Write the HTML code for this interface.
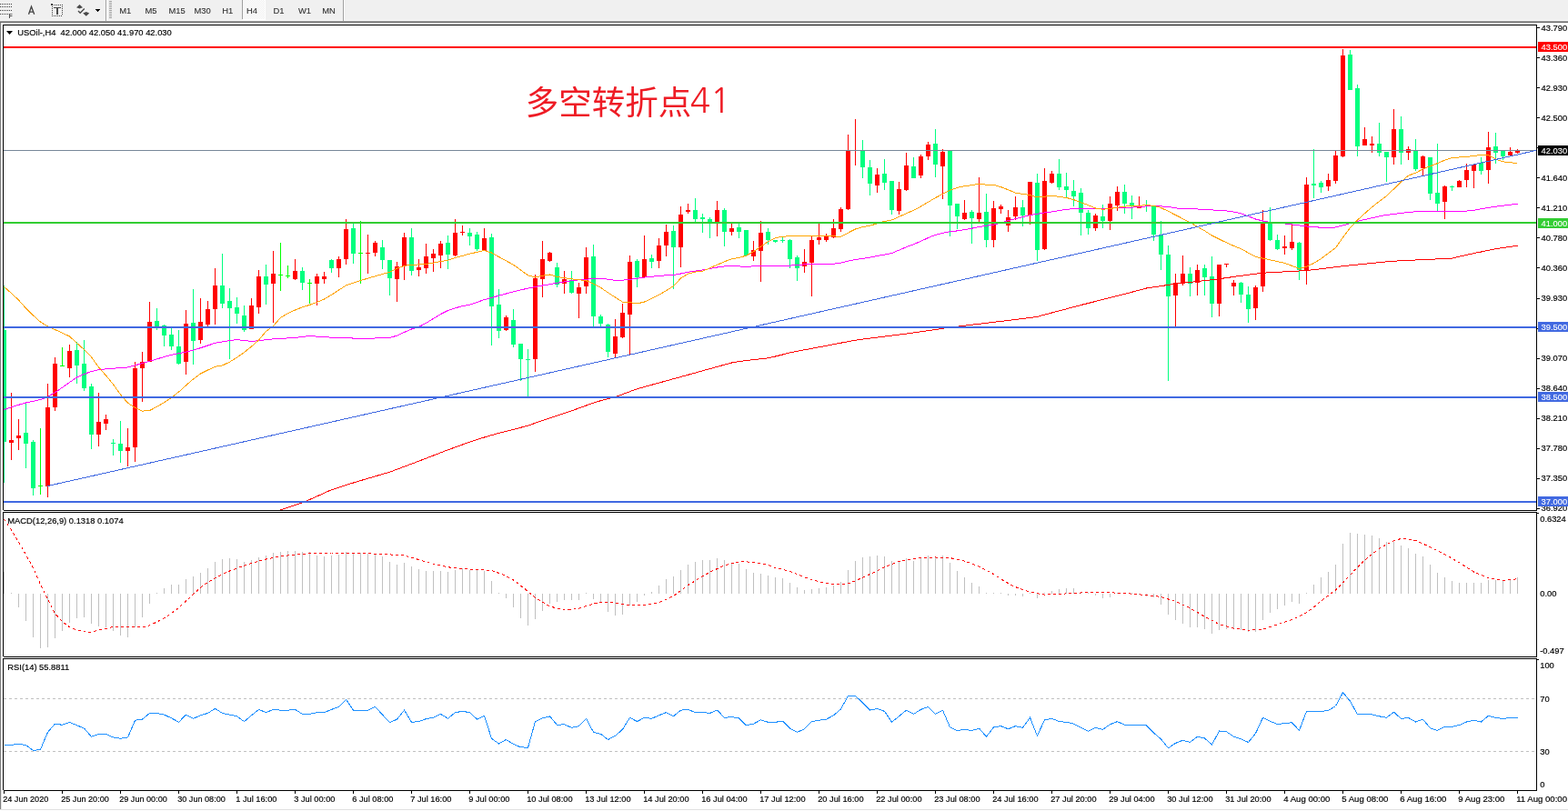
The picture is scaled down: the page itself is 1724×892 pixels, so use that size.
<!DOCTYPE html>
<html><head><meta charset="utf-8"><title>USOil H4</title>
<style>html,body{margin:0;padding:0;background:#fff;}body{width:1724px;height:892px;overflow:hidden;}</style>
</head><body>
<svg xmlns="http://www.w3.org/2000/svg" width="1724" height="892" viewBox="0 0 1724 892" style="display:block"><defs><clipPath id="cm"><rect x="4" y="28" width="1685" height="533"/></clipPath><clipPath id="cmacd"><rect x="4" y="564" width="1685" height="158"/></clipPath><clipPath id="crsi"><rect x="4" y="725" width="1685" height="144"/></clipPath></defs><rect x="0" y="0" width="1724" height="892" fill="#ffffff"/><g id="toolbar" shape-rendering="crispEdges"><rect x="0" y="0" width="1724" height="23" fill="#f0f0f0"/><rect x="0" y="22" width="1724" height="1" fill="#f7f7f7"/><rect x="0" y="23" width="1724" height="1" fill="#a0a0a0"/><rect x="0" y="24" width="1724" height="1" fill="#696969"/></g><g id="icons" shape-rendering="crispEdges"><rect x="0" y="4" width="1" height="1" fill="#404040"/><rect x="2" y="4" width="1" height="1" fill="#404040"/><rect x="4" y="4" width="1" height="1" fill="#404040"/><rect x="6" y="4" width="1" height="1" fill="#404040"/><rect x="8" y="4" width="1" height="1" fill="#404040"/><rect x="10" y="4" width="1" height="1" fill="#404040"/><rect x="12" y="4" width="1" height="1" fill="#404040"/><rect x="0" y="7" width="1" height="1" fill="#404040"/><rect x="2" y="7" width="1" height="1" fill="#404040"/><rect x="4" y="7" width="1" height="1" fill="#404040"/><rect x="6" y="7" width="1" height="1" fill="#404040"/><rect x="8" y="7" width="1" height="1" fill="#404040"/><rect x="10" y="7" width="1" height="1" fill="#404040"/><rect x="12" y="7" width="1" height="1" fill="#404040"/><rect x="0" y="11" width="1" height="1" fill="#404040"/><rect x="2" y="11" width="1" height="1" fill="#404040"/><rect x="4" y="11" width="1" height="1" fill="#404040"/><rect x="6" y="11" width="1" height="1" fill="#404040"/><rect x="8" y="11" width="1" height="1" fill="#404040"/><rect x="10" y="11" width="1" height="1" fill="#404040"/><rect x="12" y="11" width="1" height="1" fill="#404040"/><rect x="0" y="15" width="1" height="1" fill="#404040"/><rect x="2" y="15" width="1" height="1" fill="#404040"/><rect x="4" y="15" width="1" height="1" fill="#404040"/><rect x="6" y="15" width="1" height="1" fill="#404040"/><rect x="8" y="15" width="1" height="1" fill="#404040"/><text x="9.5" y="20" font-family="'Liberation Sans', Arial, sans-serif" font-size="7" font-weight="bold" fill="#505050">F</text><path d="M31.5,15.8 L34.5,7.2 L37.7,15.8 M32.6,13.1 H36.5" fill="none" stroke="#444" stroke-width="1.35" shape-rendering="auto"/><rect x="60" y="5" width="1" height="1" fill="#404040"/><rect x="62" y="5" width="1" height="1" fill="#404040"/><rect x="64" y="5" width="1" height="1" fill="#404040"/><rect x="66" y="5" width="1" height="1" fill="#404040"/><rect x="68" y="5" width="1" height="1" fill="#404040"/><rect x="57" y="7" width="1" height="1" fill="#404040"/><rect x="57" y="9" width="1" height="1" fill="#404040"/><rect x="57" y="11" width="1" height="1" fill="#404040"/><rect x="57" y="13" width="1" height="1" fill="#404040"/><rect x="57" y="15" width="1" height="1" fill="#404040"/><rect x="57" y="17" width="1" height="1" fill="#404040"/><rect x="68" y="7" width="1" height="1" fill="#404040"/><rect x="68" y="9" width="1" height="1" fill="#404040"/><rect x="68" y="11" width="1" height="1" fill="#404040"/><rect x="68" y="13" width="1" height="1" fill="#404040"/><rect x="68" y="15" width="1" height="1" fill="#404040"/><rect x="59" y="17" width="1" height="1" fill="#404040"/><rect x="61" y="17" width="1" height="1" fill="#404040"/><rect x="63" y="17" width="1" height="1" fill="#404040"/><rect x="65" y="17" width="1" height="1" fill="#404040"/><rect x="67" y="17" width="1" height="1" fill="#404040"/><rect x="56" y="4" width="2" height="2" fill="#404040"/><rect x="58" y="5" width="1" height="1" fill="#808080"/><rect x="59" y="8" width="8" height="1" fill="#4a4a4a"/><rect x="62" y="8" width="2" height="8" fill="#4a4a4a"/><path d="M84,8.2 L87.5,5 L91,8.2 L87.5,9.6 Z" fill="#4a4a4a" shape-rendering="auto"/><path d="M86,12 L88.2,14.3 L92.8,9.6" fill="none" stroke="#4a4a4a" stroke-width="1.4" shape-rendering="auto"/><path d="M91.2,14.6 L94.8,13 L98.2,14.6 L94.8,17.8 Z" fill="#4a4a4a" shape-rendering="auto"/><path d="M104.5,10 L110.5,10 L107.5,13 Z" fill="#000"/><rect x="116" y="0" width="1" height="23" fill="#a0a0a0"/><rect x="117" y="0" width="1" height="23" fill="#ffffff"/><rect x="120" y="1" width="3" height="1" fill="#a0a0a0"/><rect x="120" y="3" width="3" height="1" fill="#a0a0a0"/><rect x="120" y="5" width="3" height="1" fill="#a0a0a0"/><rect x="120" y="7" width="3" height="1" fill="#a0a0a0"/><rect x="120" y="9" width="3" height="1" fill="#a0a0a0"/><rect x="120" y="11" width="3" height="1" fill="#a0a0a0"/><rect x="120" y="13" width="3" height="1" fill="#a0a0a0"/><rect x="120" y="15" width="3" height="1" fill="#a0a0a0"/><rect x="120" y="17" width="3" height="1" fill="#a0a0a0"/><rect x="120" y="19" width="3" height="1" fill="#a0a0a0"/></g><pattern id="chk" x="0" y="0" width="2" height="2" patternUnits="userSpaceOnUse"><rect width="2" height="2" fill="#f0f0f0"/><rect width="1" height="1" fill="#ffffff"/><rect x="1" y="1" width="1" height="1" fill="#ffffff"/></pattern><rect x="267" y="0" width="24" height="21" fill="url(#chk)" shape-rendering="crispEdges"/><rect x="291" y="0" width="1" height="22" fill="#ffffff" shape-rendering="crispEdges"/><rect x="267" y="21" width="25" height="1" fill="#ffffff" shape-rendering="crispEdges"/><rect x="266" y="0" width="1" height="21" fill="#a0a0a0" shape-rendering="crispEdges"/><rect x="377" y="0" width="1" height="23" fill="#a0a0a0" shape-rendering="crispEdges"/><rect x="378" y="0" width="1" height="22" fill="#ffffff" shape-rendering="crispEdges"/><text x="131.2" y="14.9" font-family="'Liberation Sans', Arial, sans-serif" font-size="9.4" fill="#303030" stroke="#303030" stroke-width="0.1" textLength="13.06" lengthAdjust="spacingAndGlyphs" xml:space="preserve" >M1</text><text x="159.39999999999998" y="14.9" font-family="'Liberation Sans', Arial, sans-serif" font-size="9.4" fill="#303030" stroke="#303030" stroke-width="0.1" textLength="13.06" lengthAdjust="spacingAndGlyphs" xml:space="preserve" >M5</text><text x="185.39999999999998" y="14.9" font-family="'Liberation Sans', Arial, sans-serif" font-size="9.4" fill="#303030" stroke="#303030" stroke-width="0.1" textLength="18.28" lengthAdjust="spacingAndGlyphs" xml:space="preserve" >M15</text><text x="213.39999999999998" y="14.9" font-family="'Liberation Sans', Arial, sans-serif" font-size="9.4" fill="#303030" stroke="#303030" stroke-width="0.1" textLength="18.28" lengthAdjust="spacingAndGlyphs" xml:space="preserve" >M30</text><text x="244.2" y="14.9" font-family="'Liberation Sans', Arial, sans-serif" font-size="9.4" fill="#303030" stroke="#303030" stroke-width="0.1" textLength="12.02" lengthAdjust="spacingAndGlyphs" xml:space="preserve" >H1</text><text x="271.0" y="14.9" font-family="'Liberation Sans', Arial, sans-serif" font-size="9.4" fill="#303030" stroke="#303030" stroke-width="0.1" textLength="12.02" lengthAdjust="spacingAndGlyphs" xml:space="preserve" >H4</text><text x="300.4" y="14.9" font-family="'Liberation Sans', Arial, sans-serif" font-size="9.4" fill="#303030" stroke="#303030" stroke-width="0.1" textLength="12.02" lengthAdjust="spacingAndGlyphs" xml:space="preserve" >D1</text><text x="327.9" y="14.9" font-family="'Liberation Sans', Arial, sans-serif" font-size="9.4" fill="#303030" stroke="#303030" stroke-width="0.1" textLength="14.10" lengthAdjust="spacingAndGlyphs" xml:space="preserve" >W1</text><text x="354.3" y="14.9" font-family="'Liberation Sans', Arial, sans-serif" font-size="9.4" fill="#303030" stroke="#303030" stroke-width="0.1" textLength="14.62" lengthAdjust="spacingAndGlyphs" xml:space="preserve" >MN</text><rect x="0" y="25" width="1" height="865" fill="#808080" shape-rendering="crispEdges"/><rect x="1" y="25" width="1" height="865" fill="#e6e6e6" shape-rendering="crispEdges"/><rect x="0" y="890" width="1724" height="1" fill="#e0e0e0" shape-rendering="crispEdges"/><g fill="none" stroke="#000" stroke-width="1" shape-rendering="crispEdges"><path d="M3.5,561 V27.5 H1689.5 V561.5 H3.5"/><path d="M3.5,722 V563.5 H1689.5 V722.5 H3.5"/><path d="M3.5,869 V724.5 H1689.5 V869.5 H3.5"/></g><g clip-path="url(#cm)" shape-rendering="crispEdges"><rect x="4" y="314" width="1" height="217" fill="#00ff7f"/><rect x="2" y="363" width="5" height="123" fill="#00ff7f"/><rect x="12" y="432" width="1" height="74" fill="#ff0000"/><rect x="10" y="484" width="5" height="3" fill="#ff0000"/><rect x="20" y="461" width="1" height="34" fill="#ff0000"/><rect x="18" y="479" width="5" height="3" fill="#ff0000"/><rect x="28" y="444" width="1" height="71" fill="#00ff7f"/><rect x="26" y="476" width="5" height="12" fill="#00ff7f"/><rect x="36" y="484" width="1" height="61" fill="#00ff7f"/><rect x="34" y="486" width="5" height="51" fill="#00ff7f"/><rect x="44" y="471" width="1" height="73" fill="#00ff00"/><rect x="42" y="534" width="5" height="1" fill="#00ff00"/><rect x="52" y="422" width="1" height="125" fill="#ff0000"/><rect x="50" y="448" width="5" height="87" fill="#ff0000"/><rect x="60" y="393" width="1" height="59" fill="#ff0000"/><rect x="58" y="400" width="5" height="48" fill="#ff0000"/><rect x="68" y="382" width="1" height="20" fill="#00ff00"/><rect x="66" y="402" width="5" height="1" fill="#00ff00"/><rect x="76" y="379" width="1" height="36" fill="#ff0000"/><rect x="74" y="386" width="5" height="19" fill="#ff0000"/><rect x="84" y="376" width="1" height="46" fill="#00ff7f"/><rect x="82" y="385" width="5" height="17" fill="#00ff7f"/><rect x="92" y="374" width="1" height="56" fill="#00ff7f"/><rect x="90" y="400" width="5" height="27" fill="#00ff7f"/><rect x="100" y="422" width="1" height="72" fill="#00ff7f"/><rect x="98" y="425" width="5" height="53" fill="#00ff7f"/><rect x="108" y="432" width="1" height="59" fill="#ff0000"/><rect x="106" y="464" width="5" height="14" fill="#ff0000"/><rect x="116" y="456" width="1" height="17" fill="#ff0000"/><rect x="114" y="461" width="5" height="5" fill="#ff0000"/><rect x="124" y="483" width="1" height="18" fill="#00ff7f"/><rect x="122" y="487" width="5" height="1" fill="#00ff7f"/><rect x="132" y="463" width="1" height="46" fill="#00ff7f"/><rect x="130" y="488" width="5" height="8" fill="#00ff7f"/><rect x="140" y="471" width="1" height="42" fill="#ff0000"/><rect x="138" y="492" width="5" height="4" fill="#ff0000"/><rect x="148" y="398" width="1" height="110" fill="#ff0000"/><rect x="146" y="405" width="5" height="87" fill="#ff0000"/><rect x="156" y="387" width="1" height="55" fill="#ff0000"/><rect x="154" y="398" width="5" height="7" fill="#ff0000"/><rect x="164" y="332" width="1" height="66" fill="#ff0000"/><rect x="162" y="354" width="5" height="44" fill="#ff0000"/><rect x="172" y="339" width="1" height="24" fill="#00ff7f"/><rect x="170" y="353" width="5" height="6" fill="#00ff7f"/><rect x="180" y="357" width="1" height="24" fill="#00ff7f"/><rect x="178" y="358" width="5" height="11" fill="#00ff7f"/><rect x="188" y="361" width="1" height="24" fill="#00ff7f"/><rect x="186" y="368" width="5" height="13" fill="#00ff7f"/><rect x="196" y="363" width="1" height="38" fill="#00ff7f"/><rect x="194" y="381" width="5" height="19" fill="#00ff7f"/><rect x="204" y="341" width="1" height="71" fill="#ff0000"/><rect x="202" y="356" width="5" height="42" fill="#ff0000"/><rect x="212" y="318" width="1" height="83" fill="#00ff7f"/><rect x="210" y="355" width="5" height="20" fill="#00ff7f"/><rect x="220" y="328" width="1" height="50" fill="#ff0000"/><rect x="218" y="354" width="5" height="20" fill="#ff0000"/><rect x="228" y="331" width="1" height="28" fill="#ff0000"/><rect x="226" y="340" width="5" height="17" fill="#ff0000"/><rect x="236" y="295" width="1" height="62" fill="#ff0000"/><rect x="234" y="314" width="5" height="26" fill="#ff0000"/><rect x="244" y="279" width="1" height="60" fill="#00ff7f"/><rect x="242" y="314" width="5" height="20" fill="#00ff7f"/><rect x="252" y="317" width="1" height="78" fill="#00ff7f"/><rect x="250" y="331" width="5" height="8" fill="#00ff7f"/><rect x="260" y="327" width="1" height="29" fill="#00ff7f"/><rect x="258" y="338" width="5" height="7" fill="#00ff7f"/><rect x="268" y="336" width="1" height="29" fill="#00ff7f"/><rect x="266" y="347" width="5" height="16" fill="#00ff7f"/><rect x="276" y="328" width="1" height="34" fill="#ff0000"/><rect x="274" y="336" width="5" height="26" fill="#ff0000"/><rect x="284" y="297" width="1" height="48" fill="#ff0000"/><rect x="282" y="304" width="5" height="34" fill="#ff0000"/><rect x="292" y="291" width="1" height="44" fill="#00ff7f"/><rect x="290" y="304" width="5" height="9" fill="#00ff7f"/><rect x="300" y="276" width="1" height="79" fill="#ff0000"/><rect x="298" y="301" width="5" height="11" fill="#ff0000"/><rect x="308" y="267" width="1" height="53" fill="#00ff00"/><rect x="306" y="302" width="5" height="1" fill="#00ff00"/><rect x="316" y="292" width="1" height="14" fill="#00ff00"/><rect x="314" y="303" width="5" height="1" fill="#00ff00"/><rect x="324" y="285" width="1" height="23" fill="#ff0000"/><rect x="322" y="298" width="5" height="9" fill="#ff0000"/><rect x="332" y="294" width="1" height="25" fill="#00ff7f"/><rect x="330" y="298" width="5" height="13" fill="#00ff7f"/><rect x="340" y="307" width="1" height="27" fill="#00ff00"/><rect x="338" y="311" width="5" height="1" fill="#00ff00"/><rect x="348" y="301" width="1" height="35" fill="#ff0000"/><rect x="346" y="304" width="5" height="8" fill="#ff0000"/><rect x="356" y="299" width="1" height="13" fill="#ff0000"/><rect x="354" y="304" width="5" height="3" fill="#ff0000"/><rect x="364" y="285" width="1" height="15" fill="#00ff7f"/><rect x="362" y="286" width="5" height="9" fill="#00ff7f"/><rect x="372" y="282" width="1" height="23" fill="#ff0000"/><rect x="370" y="285" width="5" height="10" fill="#ff0000"/><rect x="380" y="241" width="1" height="50" fill="#ff0000"/><rect x="378" y="252" width="5" height="33" fill="#ff0000"/><rect x="388" y="245" width="1" height="45" fill="#00ff7f"/><rect x="386" y="251" width="5" height="28" fill="#00ff7f"/><rect x="396" y="243" width="1" height="69" fill="#00ff00"/><rect x="394" y="278" width="5" height="1" fill="#00ff00"/><rect x="404" y="258" width="1" height="43" fill="#ff0000"/><rect x="402" y="278" width="5" height="1" fill="#ff0000"/><rect x="412" y="265" width="1" height="17" fill="#ff0000"/><rect x="410" y="267" width="5" height="11" fill="#ff0000"/><rect x="420" y="264" width="1" height="32" fill="#00ff7f"/><rect x="418" y="272" width="5" height="14" fill="#00ff7f"/><rect x="428" y="286" width="1" height="39" fill="#00ff7f"/><rect x="426" y="286" width="5" height="20" fill="#00ff7f"/><rect x="436" y="288" width="1" height="44" fill="#ff0000"/><rect x="434" y="293" width="5" height="14" fill="#ff0000"/><rect x="444" y="256" width="1" height="52" fill="#ff0000"/><rect x="442" y="261" width="5" height="32" fill="#ff0000"/><rect x="452" y="251" width="1" height="52" fill="#00ff7f"/><rect x="450" y="261" width="5" height="37" fill="#00ff7f"/><rect x="460" y="285" width="1" height="19" fill="#ff0000"/><rect x="458" y="294" width="5" height="3" fill="#ff0000"/><rect x="468" y="268" width="1" height="33" fill="#ff0000"/><rect x="466" y="282" width="5" height="13" fill="#ff0000"/><rect x="476" y="274" width="1" height="25" fill="#ff0000"/><rect x="474" y="279" width="5" height="5" fill="#ff0000"/><rect x="484" y="265" width="1" height="30" fill="#ff0000"/><rect x="482" y="268" width="5" height="13" fill="#ff0000"/><rect x="492" y="259" width="1" height="37" fill="#00ff7f"/><rect x="490" y="267" width="5" height="13" fill="#00ff7f"/><rect x="500" y="241" width="1" height="41" fill="#ff0000"/><rect x="498" y="256" width="5" height="25" fill="#ff0000"/><rect x="508" y="248" width="1" height="11" fill="#ff0000"/><rect x="506" y="255" width="5" height="1" fill="#ff0000"/><rect x="516" y="251" width="1" height="19" fill="#00ff7f"/><rect x="514" y="256" width="5" height="4" fill="#00ff7f"/><rect x="524" y="255" width="1" height="21" fill="#00ff7f"/><rect x="522" y="258" width="5" height="16" fill="#00ff7f"/><rect x="532" y="251" width="1" height="25" fill="#ff0000"/><rect x="530" y="262" width="5" height="14" fill="#ff0000"/><rect x="540" y="257" width="1" height="123" fill="#00ff7f"/><rect x="538" y="261" width="5" height="76" fill="#00ff7f"/><rect x="548" y="318" width="1" height="54" fill="#00ff7f"/><rect x="546" y="335" width="5" height="29" fill="#00ff7f"/><rect x="556" y="347" width="1" height="17" fill="#ff0000"/><rect x="554" y="349" width="5" height="14" fill="#ff0000"/><rect x="564" y="340" width="1" height="42" fill="#00ff7f"/><rect x="562" y="352" width="5" height="27" fill="#00ff7f"/><rect x="572" y="378" width="1" height="41" fill="#00ff7f"/><rect x="570" y="378" width="5" height="17" fill="#00ff7f"/><rect x="580" y="384" width="1" height="52" fill="#00ff7f"/><rect x="578" y="395" width="5" height="1" fill="#00ff7f"/><rect x="588" y="302" width="1" height="107" fill="#ff0000"/><rect x="586" y="306" width="5" height="89" fill="#ff0000"/><rect x="596" y="265" width="1" height="62" fill="#ff0000"/><rect x="594" y="285" width="5" height="22" fill="#ff0000"/><rect x="604" y="277" width="1" height="11" fill="#ff0000"/><rect x="602" y="278" width="5" height="9" fill="#ff0000"/><rect x="612" y="289" width="1" height="27" fill="#00ff7f"/><rect x="610" y="294" width="5" height="19" fill="#00ff7f"/><rect x="620" y="298" width="1" height="25" fill="#ff0000"/><rect x="618" y="307" width="5" height="5" fill="#ff0000"/><rect x="628" y="298" width="1" height="25" fill="#00ff7f"/><rect x="626" y="308" width="5" height="14" fill="#00ff7f"/><rect x="636" y="311" width="1" height="39" fill="#ff0000"/><rect x="634" y="316" width="5" height="7" fill="#ff0000"/><rect x="644" y="272" width="1" height="51" fill="#ff0000"/><rect x="642" y="283" width="5" height="32" fill="#ff0000"/><rect x="652" y="269" width="1" height="90" fill="#00ff7f"/><rect x="650" y="282" width="5" height="66" fill="#00ff7f"/><rect x="660" y="346" width="1" height="13" fill="#00ff7f"/><rect x="658" y="348" width="5" height="8" fill="#00ff7f"/><rect x="668" y="356" width="1" height="37" fill="#00ff7f"/><rect x="666" y="357" width="5" height="30" fill="#00ff7f"/><rect x="676" y="351" width="1" height="43" fill="#ff0000"/><rect x="674" y="370" width="5" height="19" fill="#ff0000"/><rect x="684" y="334" width="1" height="38" fill="#ff0000"/><rect x="682" y="344" width="5" height="27" fill="#ff0000"/><rect x="692" y="281" width="1" height="109" fill="#ff0000"/><rect x="690" y="288" width="5" height="58" fill="#ff0000"/><rect x="700" y="285" width="1" height="31" fill="#00ff7f"/><rect x="698" y="287" width="5" height="18" fill="#00ff7f"/><rect x="708" y="259" width="1" height="46" fill="#ff0000"/><rect x="706" y="285" width="5" height="20" fill="#ff0000"/><rect x="716" y="280" width="1" height="15" fill="#00ff7f"/><rect x="714" y="284" width="5" height="4" fill="#00ff7f"/><rect x="724" y="262" width="1" height="33" fill="#ff0000"/><rect x="722" y="270" width="5" height="17" fill="#ff0000"/><rect x="732" y="247" width="1" height="35" fill="#ff0000"/><rect x="730" y="255" width="5" height="15" fill="#ff0000"/><rect x="740" y="248" width="1" height="70" fill="#00ff7f"/><rect x="738" y="254" width="5" height="18" fill="#00ff7f"/><rect x="748" y="227" width="1" height="67" fill="#ff0000"/><rect x="746" y="236" width="5" height="36" fill="#ff0000"/><rect x="756" y="224" width="1" height="11" fill="#ff0000"/><rect x="754" y="231" width="5" height="2" fill="#ff0000"/><rect x="764" y="218" width="1" height="26" fill="#00ff7f"/><rect x="762" y="231" width="5" height="10" fill="#00ff7f"/><rect x="772" y="235" width="1" height="21" fill="#00ff7f"/><rect x="770" y="239" width="5" height="2" fill="#00ff7f"/><rect x="780" y="239" width="1" height="23" fill="#00ff7f"/><rect x="778" y="241" width="5" height="3" fill="#00ff7f"/><rect x="788" y="221" width="1" height="39" fill="#ff0000"/><rect x="786" y="231" width="5" height="13" fill="#ff0000"/><rect x="796" y="229" width="1" height="42" fill="#00ff7f"/><rect x="794" y="231" width="5" height="24" fill="#00ff7f"/><rect x="804" y="246" width="1" height="13" fill="#ff0000"/><rect x="802" y="251" width="5" height="4" fill="#ff0000"/><rect x="812" y="246" width="1" height="16" fill="#00ff7f"/><rect x="810" y="250" width="5" height="5" fill="#00ff7f"/><rect x="820" y="253" width="1" height="28" fill="#00ff7f"/><rect x="818" y="253" width="5" height="28" fill="#00ff7f"/><rect x="828" y="265" width="1" height="22" fill="#ff0000"/><rect x="826" y="275" width="5" height="7" fill="#ff0000"/><rect x="836" y="243" width="1" height="67" fill="#ff0000"/><rect x="834" y="256" width="5" height="20" fill="#ff0000"/><rect x="844" y="251" width="1" height="18" fill="#00ff7f"/><rect x="842" y="255" width="5" height="9" fill="#00ff7f"/><rect x="852" y="264" width="1" height="3" fill="#00ff7f"/><rect x="850" y="264" width="5" height="2" fill="#00ff7f"/><rect x="860" y="261" width="1" height="6" fill="#00ff7f"/><rect x="858" y="264" width="5" height="1" fill="#00ff7f"/><rect x="868" y="263" width="1" height="32" fill="#00ff7f"/><rect x="866" y="264" width="5" height="21" fill="#00ff7f"/><rect x="876" y="281" width="1" height="28" fill="#00ff7f"/><rect x="874" y="283" width="5" height="12" fill="#00ff7f"/><rect x="884" y="274" width="1" height="26" fill="#ff0000"/><rect x="882" y="288" width="5" height="5" fill="#ff0000"/><rect x="892" y="260" width="1" height="66" fill="#ff0000"/><rect x="890" y="264" width="5" height="25" fill="#ff0000"/><rect x="900" y="245" width="1" height="24" fill="#ff0000"/><rect x="898" y="261" width="5" height="3" fill="#ff0000"/><rect x="908" y="257" width="1" height="9" fill="#ff0000"/><rect x="906" y="260" width="5" height="4" fill="#ff0000"/><rect x="916" y="241" width="1" height="21" fill="#ff0000"/><rect x="914" y="251" width="5" height="10" fill="#ff0000"/><rect x="924" y="228" width="1" height="27" fill="#ff0000"/><rect x="922" y="230" width="5" height="22" fill="#ff0000"/><rect x="932" y="148" width="1" height="83" fill="#ff0000"/><rect x="930" y="165" width="5" height="65" fill="#ff0000"/><rect x="940" y="131" width="1" height="51" fill="#ff0000"/><rect x="938" y="165" width="5" height="1" fill="#ff0000"/><rect x="948" y="154" width="1" height="42" fill="#00ff7f"/><rect x="946" y="166" width="5" height="18" fill="#00ff7f"/><rect x="956" y="176" width="1" height="39" fill="#00ff7f"/><rect x="954" y="184" width="5" height="18" fill="#00ff7f"/><rect x="964" y="185" width="1" height="27" fill="#ff0000"/><rect x="962" y="192" width="5" height="12" fill="#ff0000"/><rect x="972" y="175" width="1" height="34" fill="#00ff7f"/><rect x="970" y="191" width="5" height="10" fill="#00ff7f"/><rect x="980" y="199" width="1" height="37" fill="#00ff7f"/><rect x="978" y="199" width="5" height="32" fill="#00ff7f"/><rect x="988" y="200" width="1" height="36" fill="#ff0000"/><rect x="986" y="208" width="5" height="24" fill="#ff0000"/><rect x="996" y="168" width="1" height="42" fill="#ff0000"/><rect x="994" y="182" width="5" height="27" fill="#ff0000"/><rect x="1004" y="173" width="1" height="23" fill="#00ff7f"/><rect x="1002" y="183" width="5" height="13" fill="#00ff7f"/><rect x="1012" y="170" width="1" height="26" fill="#ff0000"/><rect x="1010" y="172" width="5" height="21" fill="#ff0000"/><rect x="1020" y="156" width="1" height="20" fill="#ff0000"/><rect x="1018" y="159" width="5" height="13" fill="#ff0000"/><rect x="1028" y="142" width="1" height="53" fill="#00ff7f"/><rect x="1026" y="158" width="5" height="23" fill="#00ff7f"/><rect x="1036" y="164" width="1" height="55" fill="#ff0000"/><rect x="1034" y="167" width="5" height="16" fill="#ff0000"/><rect x="1044" y="165" width="1" height="95" fill="#00ff7f"/><rect x="1042" y="165" width="5" height="61" fill="#00ff7f"/><rect x="1052" y="224" width="1" height="28" fill="#00ff7f"/><rect x="1050" y="224" width="5" height="14" fill="#00ff7f"/><rect x="1060" y="220" width="1" height="22" fill="#ff0000"/><rect x="1058" y="234" width="5" height="7" fill="#ff0000"/><rect x="1068" y="231" width="1" height="37" fill="#00ff7f"/><rect x="1066" y="233" width="5" height="7" fill="#00ff7f"/><rect x="1076" y="195" width="1" height="49" fill="#ff0000"/><rect x="1074" y="234" width="5" height="7" fill="#ff0000"/><rect x="1084" y="213" width="1" height="59" fill="#00ff7f"/><rect x="1082" y="233" width="5" height="31" fill="#00ff7f"/><rect x="1092" y="221" width="1" height="51" fill="#ff0000"/><rect x="1090" y="229" width="5" height="35" fill="#ff0000"/><rect x="1100" y="225" width="1" height="10" fill="#ff0000"/><rect x="1098" y="227" width="5" height="3" fill="#ff0000"/><rect x="1108" y="231" width="1" height="24" fill="#ff0000"/><rect x="1106" y="239" width="5" height="9" fill="#ff0000"/><rect x="1116" y="216" width="1" height="26" fill="#ff0000"/><rect x="1114" y="228" width="5" height="10" fill="#ff0000"/><rect x="1124" y="220" width="1" height="29" fill="#00ff7f"/><rect x="1122" y="228" width="5" height="9" fill="#00ff7f"/><rect x="1132" y="200" width="1" height="47" fill="#ff0000"/><rect x="1130" y="200" width="5" height="37" fill="#ff0000"/><rect x="1140" y="191" width="1" height="96" fill="#00ff7f"/><rect x="1138" y="201" width="5" height="74" fill="#00ff7f"/><rect x="1148" y="185" width="1" height="90" fill="#ff0000"/><rect x="1146" y="199" width="5" height="75" fill="#ff0000"/><rect x="1156" y="188" width="1" height="14" fill="#ff0000"/><rect x="1154" y="191" width="5" height="10" fill="#ff0000"/><rect x="1164" y="175" width="1" height="34" fill="#00ff7f"/><rect x="1162" y="191" width="5" height="15" fill="#00ff7f"/><rect x="1172" y="190" width="1" height="27" fill="#00ff7f"/><rect x="1170" y="205" width="5" height="4" fill="#00ff7f"/><rect x="1180" y="198" width="1" height="29" fill="#00ff7f"/><rect x="1178" y="210" width="5" height="6" fill="#00ff7f"/><rect x="1188" y="207" width="1" height="52" fill="#00ff7f"/><rect x="1186" y="212" width="5" height="22" fill="#00ff7f"/><rect x="1196" y="231" width="1" height="27" fill="#00ff7f"/><rect x="1194" y="234" width="5" height="17" fill="#00ff7f"/><rect x="1204" y="235" width="1" height="19" fill="#ff0000"/><rect x="1202" y="237" width="5" height="14" fill="#ff0000"/><rect x="1212" y="225" width="1" height="26" fill="#00ff7f"/><rect x="1210" y="238" width="5" height="5" fill="#00ff7f"/><rect x="1220" y="216" width="1" height="37" fill="#ff0000"/><rect x="1218" y="224" width="5" height="19" fill="#ff0000"/><rect x="1228" y="205" width="1" height="27" fill="#ff0000"/><rect x="1226" y="211" width="5" height="15" fill="#ff0000"/><rect x="1236" y="203" width="1" height="32" fill="#00ff7f"/><rect x="1234" y="211" width="5" height="13" fill="#00ff7f"/><rect x="1244" y="215" width="1" height="26" fill="#00ff7f"/><rect x="1242" y="223" width="5" height="4" fill="#00ff7f"/><rect x="1252" y="216" width="1" height="13" fill="#ff0000"/><rect x="1250" y="226" width="5" height="3" fill="#ff0000"/><rect x="1260" y="220" width="1" height="13" fill="#00ff7f"/><rect x="1258" y="225" width="5" height="1" fill="#00ff7f"/><rect x="1268" y="227" width="1" height="38" fill="#00ff7f"/><rect x="1266" y="227" width="5" height="31" fill="#00ff7f"/><rect x="1276" y="243" width="1" height="54" fill="#00ff7f"/><rect x="1274" y="258" width="5" height="22" fill="#00ff7f"/><rect x="1284" y="270" width="1" height="149" fill="#00ff7f"/><rect x="1282" y="280" width="5" height="46" fill="#00ff7f"/><rect x="1292" y="301" width="1" height="58" fill="#ff0000"/><rect x="1290" y="311" width="5" height="14" fill="#ff0000"/><rect x="1300" y="281" width="1" height="33" fill="#ff0000"/><rect x="1298" y="301" width="5" height="11" fill="#ff0000"/><rect x="1308" y="294" width="1" height="32" fill="#00ff7f"/><rect x="1306" y="301" width="5" height="11" fill="#00ff7f"/><rect x="1316" y="291" width="1" height="34" fill="#ff0000"/><rect x="1314" y="297" width="5" height="14" fill="#ff0000"/><rect x="1324" y="291" width="1" height="34" fill="#00ff7f"/><rect x="1322" y="295" width="5" height="10" fill="#00ff7f"/><rect x="1332" y="282" width="1" height="67" fill="#00ff7f"/><rect x="1330" y="304" width="5" height="30" fill="#00ff7f"/><rect x="1340" y="291" width="1" height="57" fill="#ff0000"/><rect x="1338" y="291" width="5" height="43" fill="#ff0000"/><rect x="1348" y="290" width="1" height="4" fill="#ff0000"/><rect x="1346" y="290" width="5" height="1" fill="#ff0000"/><rect x="1356" y="308" width="1" height="17" fill="#ff0000"/><rect x="1354" y="311" width="5" height="4" fill="#ff0000"/><rect x="1364" y="310" width="1" height="23" fill="#00ff7f"/><rect x="1362" y="311" width="5" height="13" fill="#00ff7f"/><rect x="1372" y="315" width="1" height="40" fill="#00ff7f"/><rect x="1370" y="324" width="5" height="16" fill="#00ff7f"/><rect x="1380" y="314" width="1" height="38" fill="#ff0000"/><rect x="1378" y="316" width="5" height="23" fill="#ff0000"/><rect x="1388" y="231" width="1" height="90" fill="#ff0000"/><rect x="1386" y="245" width="5" height="70" fill="#ff0000"/><rect x="1396" y="228" width="1" height="37" fill="#00ff7f"/><rect x="1394" y="245" width="5" height="19" fill="#00ff7f"/><rect x="1404" y="258" width="1" height="17" fill="#00ff7f"/><rect x="1402" y="264" width="5" height="10" fill="#00ff7f"/><rect x="1412" y="259" width="1" height="21" fill="#ff0000"/><rect x="1410" y="271" width="5" height="2" fill="#ff0000"/><rect x="1420" y="247" width="1" height="28" fill="#ff0000"/><rect x="1418" y="266" width="5" height="7" fill="#ff0000"/><rect x="1428" y="266" width="1" height="42" fill="#00ff7f"/><rect x="1426" y="267" width="5" height="30" fill="#00ff7f"/><rect x="1436" y="195" width="1" height="118" fill="#ff0000"/><rect x="1434" y="203" width="5" height="95" fill="#ff0000"/><rect x="1444" y="164" width="1" height="54" fill="#00ff7f"/><rect x="1442" y="202" width="5" height="2" fill="#00ff7f"/><rect x="1452" y="199" width="1" height="13" fill="#00ff7f"/><rect x="1450" y="201" width="5" height="5" fill="#00ff7f"/><rect x="1460" y="191" width="1" height="19" fill="#ff0000"/><rect x="1458" y="198" width="5" height="7" fill="#ff0000"/><rect x="1468" y="165" width="1" height="37" fill="#ff0000"/><rect x="1466" y="171" width="5" height="28" fill="#ff0000"/><rect x="1476" y="54" width="1" height="119" fill="#ff0000"/><rect x="1474" y="61" width="5" height="111" fill="#ff0000"/><rect x="1484" y="55" width="1" height="44" fill="#00ff7f"/><rect x="1482" y="60" width="5" height="39" fill="#00ff7f"/><rect x="1492" y="93" width="1" height="79" fill="#00ff7f"/><rect x="1490" y="97" width="5" height="64" fill="#00ff7f"/><rect x="1500" y="140" width="1" height="20" fill="#ff0000"/><rect x="1498" y="153" width="5" height="7" fill="#ff0000"/><rect x="1508" y="150" width="1" height="18" fill="#ff0000"/><rect x="1506" y="158" width="5" height="2" fill="#ff0000"/><rect x="1516" y="135" width="1" height="37" fill="#00ff7f"/><rect x="1514" y="158" width="5" height="10" fill="#00ff7f"/><rect x="1524" y="167" width="1" height="33" fill="#00ff7f"/><rect x="1522" y="167" width="5" height="6" fill="#00ff7f"/><rect x="1532" y="120" width="1" height="61" fill="#ff0000"/><rect x="1530" y="142" width="5" height="31" fill="#ff0000"/><rect x="1540" y="128" width="1" height="53" fill="#00ff7f"/><rect x="1538" y="142" width="5" height="26" fill="#00ff7f"/><rect x="1548" y="161" width="1" height="15" fill="#ff0000"/><rect x="1546" y="164" width="5" height="4" fill="#ff0000"/><rect x="1556" y="153" width="1" height="35" fill="#00ff7f"/><rect x="1554" y="165" width="5" height="21" fill="#00ff7f"/><rect x="1564" y="171" width="1" height="22" fill="#ff0000"/><rect x="1562" y="172" width="5" height="13" fill="#ff0000"/><rect x="1572" y="173" width="1" height="47" fill="#00ff7f"/><rect x="1570" y="173" width="5" height="40" fill="#00ff7f"/><rect x="1580" y="158" width="1" height="74" fill="#00ff7f"/><rect x="1578" y="212" width="5" height="12" fill="#00ff7f"/><rect x="1588" y="204" width="1" height="37" fill="#ff0000"/><rect x="1586" y="205" width="5" height="17" fill="#ff0000"/><rect x="1596" y="204" width="1" height="6" fill="#00ff7f"/><rect x="1594" y="205" width="5" height="1" fill="#00ff7f"/><rect x="1604" y="198" width="1" height="8" fill="#ff0000"/><rect x="1602" y="199" width="5" height="7" fill="#ff0000"/><rect x="1612" y="180" width="1" height="26" fill="#ff0000"/><rect x="1610" y="187" width="5" height="11" fill="#ff0000"/><rect x="1620" y="180" width="1" height="27" fill="#ff0000"/><rect x="1618" y="181" width="5" height="7" fill="#ff0000"/><rect x="1628" y="173" width="1" height="19" fill="#00ff7f"/><rect x="1626" y="179" width="5" height="9" fill="#00ff7f"/><rect x="1636" y="145" width="1" height="57" fill="#ff0000"/><rect x="1634" y="162" width="5" height="25" fill="#ff0000"/><rect x="1644" y="146" width="1" height="34" fill="#00ff7f"/><rect x="1642" y="161" width="5" height="7" fill="#00ff7f"/><rect x="1652" y="165" width="1" height="11" fill="#00ff7f"/><rect x="1650" y="166" width="5" height="6" fill="#00ff7f"/><rect x="1660" y="162" width="1" height="10" fill="#ff0000"/><rect x="1658" y="167" width="5" height="4" fill="#ff0000"/><rect x="1668" y="164" width="1" height="5" fill="#ff0000"/><rect x="1666" y="165" width="5" height="3" fill="#ff0000"/><polyline points="292.5,566.3 300.5,563.6 308.5,560.8 316.5,558.1 324.5,555.4 332.5,552.7 340.5,549.5 348.5,545.9 356.5,542.3 364.5,538.7 372.5,536.1 380.5,533.6 388.5,531.0 396.5,528.6 404.5,526.2 412.5,523.9 420.5,521.5 428.5,519.2 436.5,516.2 444.5,513.2 452.5,510.2 460.5,507.2 468.5,504.1 476.5,501.0 484.5,497.9 492.5,494.8 500.5,491.9 508.5,489.0 516.5,486.1 524.5,483.4 532.5,481.0 540.5,478.6 548.5,476.4 556.5,474.4 564.5,472.3 572.5,470.3 580.5,468.1 588.5,465.3 596.5,462.6 604.5,459.8 612.5,457.1 620.5,454.5 628.5,451.8 636.5,448.9 644.5,446.0 652.5,443.1 660.5,440.7 668.5,438.7 676.5,436.7 684.5,433.7 692.5,430.7 700.5,427.7 708.5,425.5 716.5,423.3 724.5,421.1 732.5,418.9 740.5,416.7 748.5,414.5 756.5,412.3 764.5,410.1 772.5,407.8 780.5,405.6 788.5,403.4 796.5,401.2 804.5,399.0 812.5,397.5 820.5,396.6 828.5,395.6 836.5,394.7 844.5,393.8 852.5,392.0 860.5,390.0 868.5,387.9 876.5,386.3 884.5,384.8 892.5,383.3 900.5,381.8 908.5,380.3 916.5,378.7 924.5,377.2 932.5,375.7 940.5,374.2 948.5,373.1 956.5,372.1 964.5,371.1 972.5,370.1 980.5,369.1 988.5,368.1 996.5,367.1 1004.5,365.9 1012.5,364.8 1020.5,363.6 1028.5,362.5 1036.5,361.3 1044.5,360.1 1052.5,359.2 1060.5,358.2 1068.5,357.2 1076.5,356.3 1084.5,355.3 1092.5,354.3 1100.5,353.4 1108.5,352.4 1116.5,351.4 1124.5,350.5 1132.5,349.5 1140.5,348.3 1148.5,346.2 1156.5,344.0 1164.5,341.9 1172.5,339.8 1180.5,337.6 1188.5,335.5 1196.5,333.5 1204.5,331.5 1212.5,329.4 1220.5,327.4 1228.5,325.4 1236.5,323.4 1244.5,321.3 1252.5,319.1 1260.5,317.0 1268.5,315.8 1276.5,314.6 1284.5,313.4 1292.5,312.2 1300.5,311.3 1308.5,310.4 1316.5,309.5 1324.5,308.6 1332.5,307.8 1340.5,306.7 1348.5,305.6 1356.5,304.4 1364.5,303.3 1372.5,302.2 1380.5,301.2 1388.5,300.4 1396.5,299.6 1404.5,299.2 1412.5,298.9 1420.5,298.6 1428.5,298.0 1436.5,297.4 1444.5,296.7 1452.5,295.7 1460.5,294.7 1468.5,293.7 1476.5,292.7 1484.5,291.9 1492.5,291.1 1500.5,290.3 1508.5,289.5 1516.5,288.7 1524.5,287.9 1532.5,287.2 1540.5,286.8 1548.5,286.4 1556.5,286.0 1564.5,285.6 1572.5,285.3 1580.5,284.9 1588.5,284.5 1596.5,284.1 1604.5,282.2 1612.5,280.4 1620.5,278.6 1628.5,277.0 1636.5,275.3 1644.5,273.7 1652.5,272.5 1660.5,271.4 1668.5,270.3" fill="none" stroke="#ff0000" stroke-width="1" /><polyline points="4.5,450.6 12.5,447.9 20.5,445.3 28.5,443.0 36.5,441.3 44.5,439.5 52.5,436.5 60.5,431.7 68.5,426.2 76.5,420.6 84.5,415.0 92.5,411.4 100.5,408.6 108.5,406.7 116.5,405.8 124.5,405.2 132.5,404.6 140.5,404.0 148.5,401.9 156.5,399.5 164.5,397.2 172.5,394.9 180.5,392.5 188.5,390.3 196.5,388.7 204.5,387.2 212.5,385.2 220.5,382.7 228.5,380.0 236.5,377.3 244.5,375.9 252.5,374.5 260.5,373.6 268.5,374.5 276.5,375.5 284.5,374.7 292.5,373.7 300.5,372.9 308.5,372.4 316.5,371.9 324.5,371.5 332.5,370.4 340.5,369.4 348.5,370.1 356.5,370.8 364.5,371.1 372.5,371.2 380.5,371.3 388.5,372.1 396.5,373.0 404.5,372.3 412.5,372.0 420.5,371.7 428.5,371.5 436.5,369.1 444.5,365.5 452.5,362.0 460.5,359.5 468.5,355.4 476.5,350.4 484.5,345.5 492.5,341.5 500.5,338.8 508.5,336.7 516.5,335.1 524.5,332.4 532.5,329.6 540.5,327.4 548.5,325.2 556.5,323.0 564.5,320.9 572.5,318.9 580.5,317.1 588.5,315.6 596.5,314.0 604.5,312.7 612.5,311.3 620.5,310.0 628.5,308.8 636.5,307.8 644.5,307.1 652.5,306.8 660.5,306.5 668.5,307.1 676.5,308.4 684.5,308.1 692.5,307.4 700.5,306.2 708.5,305.1 716.5,304.3 724.5,303.4 732.5,302.8 740.5,302.4 748.5,301.0 756.5,299.2 764.5,298.1 772.5,297.0 780.5,295.6 788.5,294.0 796.5,293.0 804.5,292.7 812.5,292.9 820.5,293.5 828.5,292.8 836.5,292.5 844.5,292.4 852.5,292.3 860.5,292.2 868.5,292.1 876.5,291.5 884.5,290.9 892.5,290.4 900.5,290.3 908.5,290.3 916.5,290.3 924.5,289.1 932.5,287.1 940.5,285.4 948.5,284.5 956.5,283.1 964.5,281.4 972.5,280.1 980.5,278.5 988.5,275.1 996.5,271.7 1004.5,268.7 1012.5,265.4 1020.5,261.5 1028.5,258.4 1036.5,256.3 1044.5,254.8 1052.5,253.9 1060.5,252.6 1068.5,251.2 1076.5,249.6 1084.5,248.2 1092.5,247.2 1100.5,245.0 1108.5,242.7 1116.5,240.7 1124.5,238.7 1132.5,236.7 1140.5,235.2 1148.5,234.0 1156.5,232.9 1164.5,231.6 1172.5,230.4 1180.5,229.5 1188.5,229.5 1196.5,229.5 1204.5,229.4 1212.5,229.3 1220.5,229.1 1228.5,228.7 1236.5,228.3 1244.5,228.1 1252.5,227.6 1260.5,226.9 1268.5,226.9 1276.5,226.9 1284.5,227.5 1292.5,228.8 1300.5,229.7 1308.5,229.8 1316.5,230.0 1324.5,230.4 1332.5,230.9 1340.5,231.4 1348.5,231.9 1356.5,233.1 1364.5,234.8 1372.5,237.8 1380.5,241.0 1388.5,243.0 1396.5,244.5 1404.5,245.2 1412.5,246.0 1420.5,247.0 1428.5,248.0 1436.5,249.0 1444.5,249.7 1452.5,250.2 1460.5,250.5 1468.5,250.0 1476.5,247.9 1484.5,245.7 1492.5,243.4 1500.5,241.5 1508.5,239.7 1516.5,237.9 1524.5,236.4 1532.5,235.4 1540.5,234.4 1548.5,233.5 1556.5,232.8 1564.5,232.2 1572.5,232.8 1580.5,232.6 1588.5,232.1 1596.5,232.1 1604.5,232.1 1612.5,232.1 1620.5,231.3 1628.5,229.8 1636.5,228.3 1644.5,227.2 1652.5,226.2 1660.5,225.2 1668.5,224.2" fill="none" stroke="#ff00ff" stroke-width="1" /><polyline points="4.5,315.5 12.5,322.6 20.5,330.0 28.5,339.0 36.5,346.9 44.5,354.1 52.5,359.0 60.5,362.6 68.5,366.2 76.5,370.0 84.5,377.3 92.5,384.6 100.5,392.8 108.5,403.9 116.5,413.0 124.5,422.7 132.5,434.0 140.5,443.2 148.5,448.5 156.5,452.1 164.5,451.6 172.5,447.3 180.5,442.8 188.5,437.3 196.5,431.1 204.5,423.9 212.5,417.0 220.5,411.0 228.5,407.0 236.5,403.3 244.5,402.0 252.5,398.1 260.5,393.2 268.5,387.6 276.5,381.1 284.5,374.0 292.5,364.4 300.5,358.6 308.5,349.3 316.5,344.6 324.5,341.0 332.5,337.8 340.5,335.4 348.5,332.3 356.5,329.1 364.5,324.3 372.5,319.1 380.5,313.9 388.5,311.2 396.5,308.5 404.5,306.1 412.5,303.8 420.5,301.5 428.5,299.3 436.5,295.3 444.5,292.3 452.5,291.5 460.5,290.9 468.5,290.4 476.5,289.1 484.5,287.5 492.5,286.3 500.5,283.3 508.5,281.3 516.5,279.2 524.5,277.3 532.5,275.5 540.5,278.0 548.5,282.5 556.5,286.9 564.5,291.2 572.5,297.0 580.5,302.8 588.5,304.9 596.5,303.2 604.5,302.0 612.5,304.4 620.5,305.7 628.5,306.8 636.5,307.8 644.5,308.5 652.5,312.1 660.5,316.4 668.5,321.9 676.5,327.1 684.5,332.1 692.5,332.6 700.5,334.0 708.5,332.0 716.5,328.4 724.5,324.3 732.5,319.7 740.5,314.6 748.5,306.1 756.5,301.1 764.5,299.1 772.5,298.2 780.5,294.8 788.5,291.3 796.5,287.8 804.5,284.7 812.5,283.4 820.5,281.2 828.5,276.7 836.5,271.2 844.5,265.7 852.5,261.7 860.5,260.3 868.5,259.7 876.5,259.7 884.5,259.7 892.5,259.7 900.5,259.5 908.5,259.5 916.5,259.8 924.5,260.4 932.5,256.1 940.5,252.0 948.5,249.6 956.5,248.3 964.5,245.7 972.5,243.4 980.5,242.0 988.5,238.4 996.5,234.8 1004.5,231.2 1012.5,227.1 1020.5,222.3 1028.5,217.5 1036.5,213.4 1044.5,209.3 1052.5,206.3 1060.5,204.6 1068.5,203.7 1076.5,202.3 1084.5,203.2 1092.5,203.3 1100.5,205.6 1108.5,208.8 1116.5,212.1 1124.5,213.4 1132.5,214.5 1140.5,217.0 1148.5,216.1 1156.5,215.5 1164.5,216.3 1172.5,217.5 1180.5,219.6 1188.5,222.7 1196.5,225.7 1204.5,229.0 1212.5,230.2 1220.5,229.5 1228.5,228.2 1236.5,227.1 1244.5,226.6 1252.5,226.2 1260.5,225.8 1268.5,226.2 1276.5,228.5 1284.5,232.4 1292.5,236.5 1300.5,240.6 1308.5,244.7 1316.5,249.3 1324.5,253.9 1332.5,259.0 1340.5,263.0 1348.5,266.9 1356.5,270.4 1364.5,273.7 1372.5,278.1 1380.5,282.4 1388.5,284.1 1396.5,285.8 1404.5,287.6 1412.5,289.4 1420.5,292.4 1428.5,295.5 1436.5,293.3 1444.5,289.5 1452.5,284.6 1460.5,278.6 1468.5,272.6 1476.5,261.2 1484.5,250.5 1492.5,242.1 1500.5,234.8 1508.5,227.8 1516.5,221.4 1524.5,215.4 1532.5,207.9 1540.5,199.9 1548.5,193.1 1556.5,190.2 1564.5,185.9 1572.5,182.8 1580.5,179.6 1588.5,176.2 1596.5,173.4 1604.5,173.0 1612.5,172.4 1620.5,171.4 1628.5,170.4 1636.5,170.7 1644.5,175.0 1652.5,177.8 1660.5,178.8 1668.5,179.4" fill="none" stroke="#ffa500" stroke-width="1" /><rect x="4" y="51" width="1685" height="2" fill="#ff0000"/><rect x="4" y="165" width="1685" height="1" fill="#778899"/><rect x="4" y="244" width="1685" height="2" fill="#32cd32"/><rect x="4" y="359" width="1685" height="2" fill="#4169e1"/><rect x="4" y="436" width="1685" height="2" fill="#4169e1"/><rect x="4" y="551" width="1685" height="2" fill="#4169e1"/><line x1="52.5" y1="534.5" x2="1689.5" y2="165.3" stroke="#4169e1" stroke-width="1"/></g><text x="577.8" y="125.8" font-family="'Noto Sans CJK SC', sans-serif" font-size="36.5" fill="#ee1c25">多空转折点<tspan font-family="NanumGothic, 'Liberation Sans', sans-serif" font-size="37" dx="-1.6" dy="-2.3">41</tspan></text><path d="M7,34 L14,34 L10.5,38 Z" fill="#000"/><text x="19.3" y="39" font-family="'Liberation Sans', Arial, sans-serif" font-size="9.7" fill="#000" stroke="#000" stroke-width="0.18" textLength="169.45" lengthAdjust="spacingAndGlyphs" xml:space="preserve" >USOil-,H4  42.000 42.050 41.970 42.030</text><rect x="1690" y="30" width="3" height="1" fill="#000" shape-rendering="crispEdges"/><text x="1694.6" y="33.6" font-family="'Liberation Sans', Arial, sans-serif" font-size="9.7" fill="#000" stroke="#000" stroke-width="0.18" textLength="28.59" lengthAdjust="spacingAndGlyphs" xml:space="preserve" >43.790</text><rect x="1690" y="63" width="3" height="1" fill="#000" shape-rendering="crispEdges"/><text x="1694.6" y="66.7" font-family="'Liberation Sans', Arial, sans-serif" font-size="9.7" fill="#000" stroke="#000" stroke-width="0.18" textLength="28.59" lengthAdjust="spacingAndGlyphs" xml:space="preserve" >43.360</text><rect x="1690" y="96" width="3" height="1" fill="#000" shape-rendering="crispEdges"/><text x="1694.6" y="99.7" font-family="'Liberation Sans', Arial, sans-serif" font-size="9.7" fill="#000" stroke="#000" stroke-width="0.18" textLength="28.59" lengthAdjust="spacingAndGlyphs" xml:space="preserve" >42.930</text><rect x="1690" y="129" width="3" height="1" fill="#000" shape-rendering="crispEdges"/><text x="1694.6" y="132.8" font-family="'Liberation Sans', Arial, sans-serif" font-size="9.7" fill="#000" stroke="#000" stroke-width="0.18" textLength="28.59" lengthAdjust="spacingAndGlyphs" xml:space="preserve" >42.500</text><rect x="1690" y="162" width="3" height="1" fill="#000" shape-rendering="crispEdges"/><text x="1694.6" y="165.8" font-family="'Liberation Sans', Arial, sans-serif" font-size="9.7" fill="#000" stroke="#000" stroke-width="0.18" textLength="28.59" lengthAdjust="spacingAndGlyphs" xml:space="preserve" >42.070</text><rect x="1690" y="195" width="3" height="1" fill="#000" shape-rendering="crispEdges"/><text x="1694.6" y="198.8" font-family="'Liberation Sans', Arial, sans-serif" font-size="9.7" fill="#000" stroke="#000" stroke-width="0.18" textLength="28.59" lengthAdjust="spacingAndGlyphs" xml:space="preserve" >41.640</text><rect x="1690" y="228" width="3" height="1" fill="#000" shape-rendering="crispEdges"/><text x="1694.6" y="231.9" font-family="'Liberation Sans', Arial, sans-serif" font-size="9.7" fill="#000" stroke="#000" stroke-width="0.18" textLength="28.59" lengthAdjust="spacingAndGlyphs" xml:space="preserve" >41.210</text><rect x="1690" y="261" width="3" height="1" fill="#000" shape-rendering="crispEdges"/><text x="1694.6" y="264.9" font-family="'Liberation Sans', Arial, sans-serif" font-size="9.7" fill="#000" stroke="#000" stroke-width="0.18" textLength="28.59" lengthAdjust="spacingAndGlyphs" xml:space="preserve" >40.780</text><rect x="1690" y="294" width="3" height="1" fill="#000" shape-rendering="crispEdges"/><text x="1694.6" y="298.0" font-family="'Liberation Sans', Arial, sans-serif" font-size="9.7" fill="#000" stroke="#000" stroke-width="0.18" textLength="28.59" lengthAdjust="spacingAndGlyphs" xml:space="preserve" >40.360</text><rect x="1690" y="328" width="3" height="1" fill="#000" shape-rendering="crispEdges"/><text x="1694.6" y="331.1" font-family="'Liberation Sans', Arial, sans-serif" font-size="9.7" fill="#000" stroke="#000" stroke-width="0.18" textLength="28.59" lengthAdjust="spacingAndGlyphs" xml:space="preserve" >39.930</text><rect x="1690" y="361" width="3" height="1" fill="#000" shape-rendering="crispEdges"/><text x="1694.6" y="364.1" font-family="'Liberation Sans', Arial, sans-serif" font-size="9.7" fill="#000" stroke="#000" stroke-width="0.18" textLength="28.59" lengthAdjust="spacingAndGlyphs" xml:space="preserve" >39.500</text><rect x="1690" y="394" width="3" height="1" fill="#000" shape-rendering="crispEdges"/><text x="1694.6" y="397.1" font-family="'Liberation Sans', Arial, sans-serif" font-size="9.7" fill="#000" stroke="#000" stroke-width="0.18" textLength="28.59" lengthAdjust="spacingAndGlyphs" xml:space="preserve" >39.070</text><rect x="1690" y="427" width="3" height="1" fill="#000" shape-rendering="crispEdges"/><text x="1694.6" y="430.2" font-family="'Liberation Sans', Arial, sans-serif" font-size="9.7" fill="#000" stroke="#000" stroke-width="0.18" textLength="28.59" lengthAdjust="spacingAndGlyphs" xml:space="preserve" >38.640</text><rect x="1690" y="460" width="3" height="1" fill="#000" shape-rendering="crispEdges"/><text x="1694.6" y="463.2" font-family="'Liberation Sans', Arial, sans-serif" font-size="9.7" fill="#000" stroke="#000" stroke-width="0.18" textLength="28.59" lengthAdjust="spacingAndGlyphs" xml:space="preserve" >38.210</text><rect x="1690" y="493" width="3" height="1" fill="#000" shape-rendering="crispEdges"/><text x="1694.6" y="496.3" font-family="'Liberation Sans', Arial, sans-serif" font-size="9.7" fill="#000" stroke="#000" stroke-width="0.18" textLength="28.59" lengthAdjust="spacingAndGlyphs" xml:space="preserve" >37.780</text><rect x="1690" y="526" width="3" height="1" fill="#000" shape-rendering="crispEdges"/><text x="1694.6" y="529.3" font-family="'Liberation Sans', Arial, sans-serif" font-size="9.7" fill="#000" stroke="#000" stroke-width="0.18" textLength="28.59" lengthAdjust="spacingAndGlyphs" xml:space="preserve" >37.350</text><rect x="1690" y="559" width="3" height="1" fill="#000" shape-rendering="crispEdges"/><text x="1694.6" y="562.4" font-family="'Liberation Sans', Arial, sans-serif" font-size="9.7" fill="#000" stroke="#000" stroke-width="0.18" textLength="28.59" lengthAdjust="spacingAndGlyphs" xml:space="preserve" >36.920</text><rect x="1691" y="46" width="33" height="11" fill="#ff0000" shape-rendering="crispEdges"/><text x="1694.6" y="54.9" font-family="'Liberation Sans', Arial, sans-serif" font-size="9.7" fill="#fff" stroke="#fff" stroke-width="0.1" textLength="28.59" lengthAdjust="spacingAndGlyphs" xml:space="preserve" >43.500</text><rect x="1691" y="160" width="33" height="11" fill="#000000" shape-rendering="crispEdges"/><text x="1694.6" y="168.9" font-family="'Liberation Sans', Arial, sans-serif" font-size="9.7" fill="#fff" stroke="#fff" stroke-width="0.1" textLength="28.59" lengthAdjust="spacingAndGlyphs" xml:space="preserve" >42.030</text><rect x="1691" y="240" width="33" height="11" fill="#32cd32" shape-rendering="crispEdges"/><text x="1694.6" y="248.9" font-family="'Liberation Sans', Arial, sans-serif" font-size="9.7" fill="#fff" stroke="#fff" stroke-width="0.1" textLength="28.59" lengthAdjust="spacingAndGlyphs" xml:space="preserve" >41.000</text><rect x="1691" y="354" width="33" height="11" fill="#4169e1" shape-rendering="crispEdges"/><text x="1694.6" y="362.9" font-family="'Liberation Sans', Arial, sans-serif" font-size="9.7" fill="#fff" stroke="#fff" stroke-width="0.1" textLength="28.59" lengthAdjust="spacingAndGlyphs" xml:space="preserve" >39.500</text><rect x="1691" y="431" width="33" height="11" fill="#4169e1" shape-rendering="crispEdges"/><text x="1694.6" y="439.9" font-family="'Liberation Sans', Arial, sans-serif" font-size="9.7" fill="#fff" stroke="#fff" stroke-width="0.1" textLength="28.59" lengthAdjust="spacingAndGlyphs" xml:space="preserve" >38.500</text><rect x="1691" y="546" width="33" height="11" fill="#4169e1" shape-rendering="crispEdges"/><text x="1694.6" y="554.9" font-family="'Liberation Sans', Arial, sans-serif" font-size="9.7" fill="#fff" stroke="#fff" stroke-width="0.1" textLength="28.59" lengthAdjust="spacingAndGlyphs" xml:space="preserve" >37.000</text><g clip-path="url(#cmacd)" shape-rendering="crispEdges"><rect x="4" y="629" width="1" height="24" fill="#c0c0c0"/><rect x="12" y="652" width="1" height="1" fill="#c0c0c0"/><rect x="20" y="653" width="1" height="15" fill="#c0c0c0"/><rect x="28" y="653" width="1" height="30" fill="#c0c0c0"/><rect x="36" y="653" width="1" height="48" fill="#c0c0c0"/><rect x="44" y="653" width="1" height="60" fill="#c0c0c0"/><rect x="52" y="653" width="1" height="59" fill="#c0c0c0"/><rect x="60" y="653" width="1" height="49" fill="#c0c0c0"/><rect x="68" y="653" width="1" height="41" fill="#c0c0c0"/><rect x="76" y="653" width="1" height="32" fill="#c0c0c0"/><rect x="84" y="653" width="1" height="27" fill="#c0c0c0"/><rect x="92" y="653" width="1" height="26" fill="#c0c0c0"/><rect x="100" y="653" width="1" height="33" fill="#c0c0c0"/><rect x="108" y="653" width="1" height="36" fill="#c0c0c0"/><rect x="116" y="653" width="1" height="37" fill="#c0c0c0"/><rect x="124" y="653" width="1" height="41" fill="#c0c0c0"/><rect x="132" y="653" width="1" height="46" fill="#c0c0c0"/><rect x="140" y="653" width="1" height="48" fill="#c0c0c0"/><rect x="148" y="653" width="1" height="37" fill="#c0c0c0"/><rect x="156" y="653" width="1" height="26" fill="#c0c0c0"/><rect x="164" y="653" width="1" height="11" fill="#c0c0c0"/><rect x="172" y="652" width="1" height="1" fill="#c0c0c0"/><rect x="180" y="647" width="1" height="6" fill="#c0c0c0"/><rect x="188" y="643" width="1" height="10" fill="#c0c0c0"/><rect x="196" y="643" width="1" height="10" fill="#c0c0c0"/><rect x="204" y="637" width="1" height="16" fill="#c0c0c0"/><rect x="212" y="634" width="1" height="19" fill="#c0c0c0"/><rect x="220" y="630" width="1" height="23" fill="#c0c0c0"/><rect x="228" y="625" width="1" height="28" fill="#c0c0c0"/><rect x="236" y="618" width="1" height="35" fill="#c0c0c0"/><rect x="244" y="615" width="1" height="38" fill="#c0c0c0"/><rect x="252" y="614" width="1" height="39" fill="#c0c0c0"/><rect x="260" y="615" width="1" height="38" fill="#c0c0c0"/><rect x="268" y="618" width="1" height="35" fill="#c0c0c0"/><rect x="276" y="616" width="1" height="37" fill="#c0c0c0"/><rect x="284" y="613" width="1" height="40" fill="#c0c0c0"/><rect x="292" y="611" width="1" height="42" fill="#c0c0c0"/><rect x="300" y="608" width="1" height="45" fill="#c0c0c0"/><rect x="308" y="607" width="1" height="46" fill="#c0c0c0"/><rect x="316" y="606" width="1" height="47" fill="#c0c0c0"/><rect x="324" y="606" width="1" height="47" fill="#c0c0c0"/><rect x="332" y="607" width="1" height="46" fill="#c0c0c0"/><rect x="340" y="607" width="1" height="46" fill="#c0c0c0"/><rect x="348" y="611" width="1" height="42" fill="#c0c0c0"/><rect x="356" y="612" width="1" height="41" fill="#c0c0c0"/><rect x="364" y="611" width="1" height="42" fill="#c0c0c0"/><rect x="372" y="610" width="1" height="43" fill="#c0c0c0"/><rect x="380" y="607" width="1" height="46" fill="#c0c0c0"/><rect x="388" y="608" width="1" height="45" fill="#c0c0c0"/><rect x="396" y="608" width="1" height="45" fill="#c0c0c0"/><rect x="404" y="609" width="1" height="44" fill="#c0c0c0"/><rect x="412" y="609" width="1" height="44" fill="#c0c0c0"/><rect x="420" y="612" width="1" height="41" fill="#c0c0c0"/><rect x="428" y="618" width="1" height="35" fill="#c0c0c0"/><rect x="436" y="621" width="1" height="32" fill="#c0c0c0"/><rect x="444" y="619" width="1" height="34" fill="#c0c0c0"/><rect x="452" y="623" width="1" height="30" fill="#c0c0c0"/><rect x="460" y="626" width="1" height="27" fill="#c0c0c0"/><rect x="468" y="628" width="1" height="25" fill="#c0c0c0"/><rect x="476" y="628" width="1" height="25" fill="#c0c0c0"/><rect x="484" y="628" width="1" height="25" fill="#c0c0c0"/><rect x="492" y="629" width="1" height="24" fill="#c0c0c0"/><rect x="500" y="627" width="1" height="26" fill="#c0c0c0"/><rect x="508" y="625" width="1" height="28" fill="#c0c0c0"/><rect x="516" y="627" width="1" height="26" fill="#c0c0c0"/><rect x="524" y="627" width="1" height="26" fill="#c0c0c0"/><rect x="532" y="628" width="1" height="25" fill="#c0c0c0"/><rect x="540" y="639" width="1" height="14" fill="#c0c0c0"/><rect x="548" y="652" width="1" height="1" fill="#c0c0c0"/><rect x="556" y="653" width="1" height="5" fill="#c0c0c0"/><rect x="564" y="653" width="1" height="15" fill="#c0c0c0"/><rect x="572" y="653" width="1" height="27" fill="#c0c0c0"/><rect x="580" y="653" width="1" height="35" fill="#c0c0c0"/><rect x="588" y="653" width="1" height="28" fill="#c0c0c0"/><rect x="596" y="653" width="1" height="19" fill="#c0c0c0"/><rect x="604" y="653" width="1" height="11" fill="#c0c0c0"/><rect x="612" y="653" width="1" height="9" fill="#c0c0c0"/><rect x="620" y="653" width="1" height="7" fill="#c0c0c0"/><rect x="628" y="653" width="1" height="7" fill="#c0c0c0"/><rect x="636" y="653" width="1" height="7" fill="#c0c0c0"/><rect x="644" y="652" width="1" height="1" fill="#c0c0c0"/><rect x="652" y="653" width="1" height="6" fill="#c0c0c0"/><rect x="660" y="653" width="1" height="9" fill="#c0c0c0"/><rect x="668" y="653" width="1" height="20" fill="#c0c0c0"/><rect x="676" y="653" width="1" height="24" fill="#c0c0c0"/><rect x="684" y="653" width="1" height="23" fill="#c0c0c0"/><rect x="692" y="653" width="1" height="13" fill="#c0c0c0"/><rect x="700" y="653" width="1" height="9" fill="#c0c0c0"/><rect x="708" y="653" width="1" height="2" fill="#c0c0c0"/><rect x="716" y="651" width="1" height="2" fill="#c0c0c0"/><rect x="724" y="644" width="1" height="9" fill="#c0c0c0"/><rect x="732" y="637" width="1" height="16" fill="#c0c0c0"/><rect x="740" y="634" width="1" height="19" fill="#c0c0c0"/><rect x="748" y="627" width="1" height="26" fill="#c0c0c0"/><rect x="756" y="621" width="1" height="32" fill="#c0c0c0"/><rect x="764" y="618" width="1" height="35" fill="#c0c0c0"/><rect x="772" y="616" width="1" height="37" fill="#c0c0c0"/><rect x="780" y="616" width="1" height="37" fill="#c0c0c0"/><rect x="788" y="614" width="1" height="39" fill="#c0c0c0"/><rect x="796" y="616" width="1" height="37" fill="#c0c0c0"/><rect x="804" y="619" width="1" height="34" fill="#c0c0c0"/><rect x="812" y="620" width="1" height="33" fill="#c0c0c0"/><rect x="820" y="626" width="1" height="27" fill="#c0c0c0"/><rect x="828" y="630" width="1" height="23" fill="#c0c0c0"/><rect x="836" y="631" width="1" height="22" fill="#c0c0c0"/><rect x="844" y="633" width="1" height="20" fill="#c0c0c0"/><rect x="852" y="635" width="1" height="18" fill="#c0c0c0"/><rect x="860" y="636" width="1" height="17" fill="#c0c0c0"/><rect x="868" y="641" width="1" height="12" fill="#c0c0c0"/><rect x="876" y="646" width="1" height="7" fill="#c0c0c0"/><rect x="884" y="649" width="1" height="4" fill="#c0c0c0"/><rect x="892" y="648" width="1" height="5" fill="#c0c0c0"/><rect x="900" y="647" width="1" height="6" fill="#c0c0c0"/><rect x="908" y="646" width="1" height="7" fill="#c0c0c0"/><rect x="916" y="644" width="1" height="9" fill="#c0c0c0"/><rect x="924" y="640" width="1" height="13" fill="#c0c0c0"/><rect x="932" y="627" width="1" height="26" fill="#c0c0c0"/><rect x="940" y="617" width="1" height="36" fill="#c0c0c0"/><rect x="948" y="613" width="1" height="40" fill="#c0c0c0"/><rect x="956" y="612" width="1" height="41" fill="#c0c0c0"/><rect x="964" y="611" width="1" height="42" fill="#c0c0c0"/><rect x="972" y="612" width="1" height="41" fill="#c0c0c0"/><rect x="980" y="617" width="1" height="36" fill="#c0c0c0"/><rect x="988" y="617" width="1" height="36" fill="#c0c0c0"/><rect x="996" y="614" width="1" height="39" fill="#c0c0c0"/><rect x="1004" y="617" width="1" height="36" fill="#c0c0c0"/><rect x="1012" y="614" width="1" height="39" fill="#c0c0c0"/><rect x="1020" y="611" width="1" height="42" fill="#c0c0c0"/><rect x="1028" y="612" width="1" height="41" fill="#c0c0c0"/><rect x="1036" y="611" width="1" height="42" fill="#c0c0c0"/><rect x="1044" y="619" width="1" height="34" fill="#c0c0c0"/><rect x="1052" y="628" width="1" height="25" fill="#c0c0c0"/><rect x="1060" y="635" width="1" height="18" fill="#c0c0c0"/><rect x="1068" y="641" width="1" height="12" fill="#c0c0c0"/><rect x="1076" y="645" width="1" height="8" fill="#c0c0c0"/><rect x="1084" y="652" width="1" height="1" fill="#c0c0c0"/><rect x="1092" y="652" width="1" height="1" fill="#c0c0c0"/><rect x="1100" y="652" width="1" height="1" fill="#c0c0c0"/><rect x="1108" y="653" width="1" height="2" fill="#c0c0c0"/><rect x="1116" y="653" width="1" height="2" fill="#c0c0c0"/><rect x="1124" y="653" width="1" height="3" fill="#c0c0c0"/><rect x="1132" y="652" width="1" height="1" fill="#c0c0c0"/><rect x="1140" y="653" width="1" height="5" fill="#c0c0c0"/><rect x="1148" y="652" width="1" height="1" fill="#c0c0c0"/><rect x="1156" y="650" width="1" height="3" fill="#c0c0c0"/><rect x="1164" y="648" width="1" height="5" fill="#c0c0c0"/><rect x="1172" y="647" width="1" height="6" fill="#c0c0c0"/><rect x="1180" y="647" width="1" height="6" fill="#c0c0c0"/><rect x="1188" y="652" width="1" height="1" fill="#c0c0c0"/><rect x="1196" y="652" width="1" height="1" fill="#c0c0c0"/><rect x="1204" y="653" width="1" height="2" fill="#c0c0c0"/><rect x="1212" y="653" width="1" height="5" fill="#c0c0c0"/><rect x="1220" y="653" width="1" height="4" fill="#c0c0c0"/><rect x="1228" y="652" width="1" height="1" fill="#c0c0c0"/><rect x="1236" y="652" width="1" height="1" fill="#c0c0c0"/><rect x="1244" y="652" width="1" height="1" fill="#c0c0c0"/><rect x="1252" y="653" width="1" height="1" fill="#c0c0c0"/><rect x="1260" y="653" width="1" height="3" fill="#c0c0c0"/><rect x="1268" y="653" width="1" height="4" fill="#c0c0c0"/><rect x="1276" y="653" width="1" height="12" fill="#c0c0c0"/><rect x="1284" y="653" width="1" height="23" fill="#c0c0c0"/><rect x="1292" y="653" width="1" height="29" fill="#c0c0c0"/><rect x="1300" y="653" width="1" height="33" fill="#c0c0c0"/><rect x="1308" y="653" width="1" height="37" fill="#c0c0c0"/><rect x="1316" y="653" width="1" height="37" fill="#c0c0c0"/><rect x="1324" y="653" width="1" height="39" fill="#c0c0c0"/><rect x="1332" y="653" width="1" height="44" fill="#c0c0c0"/><rect x="1340" y="653" width="1" height="40" fill="#c0c0c0"/><rect x="1348" y="653" width="1" height="39" fill="#c0c0c0"/><rect x="1356" y="653" width="1" height="38" fill="#c0c0c0"/><rect x="1364" y="653" width="1" height="40" fill="#c0c0c0"/><rect x="1372" y="653" width="1" height="42" fill="#c0c0c0"/><rect x="1380" y="653" width="1" height="42" fill="#c0c0c0"/><rect x="1388" y="653" width="1" height="29" fill="#c0c0c0"/><rect x="1396" y="653" width="1" height="21" fill="#c0c0c0"/><rect x="1404" y="653" width="1" height="17" fill="#c0c0c0"/><rect x="1412" y="653" width="1" height="13" fill="#c0c0c0"/><rect x="1420" y="653" width="1" height="9" fill="#c0c0c0"/><rect x="1428" y="653" width="1" height="11" fill="#c0c0c0"/><rect x="1436" y="652" width="1" height="1" fill="#c0c0c0"/><rect x="1444" y="643" width="1" height="10" fill="#c0c0c0"/><rect x="1452" y="635" width="1" height="18" fill="#c0c0c0"/><rect x="1460" y="629" width="1" height="24" fill="#c0c0c0"/><rect x="1468" y="621" width="1" height="32" fill="#c0c0c0"/><rect x="1476" y="598" width="1" height="55" fill="#c0c0c0"/><rect x="1484" y="586" width="1" height="67" fill="#c0c0c0"/><rect x="1492" y="587" width="1" height="66" fill="#c0c0c0"/><rect x="1500" y="588" width="1" height="65" fill="#c0c0c0"/><rect x="1508" y="589" width="1" height="64" fill="#c0c0c0"/><rect x="1516" y="592" width="1" height="61" fill="#c0c0c0"/><rect x="1524" y="596" width="1" height="57" fill="#c0c0c0"/><rect x="1532" y="596" width="1" height="57" fill="#c0c0c0"/><rect x="1540" y="600" width="1" height="53" fill="#c0c0c0"/><rect x="1548" y="603" width="1" height="50" fill="#c0c0c0"/><rect x="1556" y="609" width="1" height="44" fill="#c0c0c0"/><rect x="1564" y="612" width="1" height="41" fill="#c0c0c0"/><rect x="1572" y="621" width="1" height="32" fill="#c0c0c0"/><rect x="1580" y="630" width="1" height="23" fill="#c0c0c0"/><rect x="1588" y="635" width="1" height="18" fill="#c0c0c0"/><rect x="1596" y="639" width="1" height="14" fill="#c0c0c0"/><rect x="1604" y="641" width="1" height="12" fill="#c0c0c0"/><rect x="1612" y="641" width="1" height="12" fill="#c0c0c0"/><rect x="1620" y="641" width="1" height="12" fill="#c0c0c0"/><rect x="1628" y="641" width="1" height="12" fill="#c0c0c0"/><rect x="1636" y="638" width="1" height="15" fill="#c0c0c0"/><rect x="1644" y="638" width="1" height="15" fill="#c0c0c0"/><rect x="1652" y="638" width="1" height="15" fill="#c0c0c0"/><rect x="1660" y="637" width="1" height="16" fill="#c0c0c0"/><rect x="1668" y="635" width="1" height="18" fill="#c0c0c0"/><polyline points="4.5,571.0 12.5,582.9 20.5,596.1 28.5,610.1 36.5,624.6 44.5,642.6 52.5,659.0 60.5,674.7 68.5,683.9 76.5,689.8 84.5,693.2 92.5,694.8 100.5,695.2 108.5,693.2 116.5,691.3 124.5,689.4 132.5,689.2 140.5,689.2 148.5,689.8 156.5,689.9 164.5,687.9 172.5,684.0 180.5,679.9 188.5,674.4 196.5,668.5 204.5,661.1 212.5,653.7 220.5,646.4 228.5,640.3 236.5,635.6 244.5,631.6 252.5,628.0 260.5,624.9 268.5,622.1 276.5,619.5 284.5,617.2 292.5,615.0 300.5,613.5 308.5,612.1 316.5,610.9 324.5,610.1 332.5,609.3 340.5,608.6 348.5,608.4 356.5,608.2 364.5,608.0 372.5,608.0 380.5,608.2 388.5,608.3 396.5,608.5 404.5,608.8 412.5,609.1 420.5,609.4 428.5,609.9 436.5,610.5 444.5,611.0 452.5,613.2 460.5,615.6 468.5,618.0 476.5,620.1 484.5,622.1 492.5,623.8 500.5,624.6 508.5,625.4 516.5,626.2 524.5,626.5 532.5,626.9 540.5,627.4 548.5,630.4 556.5,633.4 564.5,638.0 572.5,644.1 580.5,650.5 588.5,657.2 596.5,662.3 604.5,666.9 612.5,669.1 620.5,671.0 628.5,670.3 636.5,669.3 644.5,666.6 652.5,664.2 660.5,662.3 668.5,662.6 676.5,663.1 684.5,664.8 692.5,665.9 700.5,665.6 708.5,665.3 716.5,664.2 724.5,662.8 732.5,659.3 740.5,655.5 748.5,649.5 756.5,643.7 764.5,638.7 772.5,633.7 780.5,629.4 788.5,625.5 796.5,621.9 804.5,619.9 812.5,617.9 820.5,617.9 828.5,618.5 836.5,619.4 844.5,621.5 852.5,624.7 860.5,626.3 868.5,628.5 876.5,631.7 884.5,634.7 892.5,637.4 900.5,639.6 908.5,641.6 916.5,643.0 924.5,642.4 932.5,641.8 940.5,638.7 948.5,635.3 956.5,631.5 964.5,627.7 972.5,623.7 980.5,620.5 988.5,617.5 996.5,615.9 1004.5,614.5 1012.5,613.5 1020.5,613.2 1028.5,613.0 1036.5,613.2 1044.5,613.6 1052.5,615.2 1060.5,617.1 1068.5,620.0 1076.5,623.1 1084.5,627.1 1092.5,631.5 1100.5,636.9 1108.5,641.6 1116.5,645.6 1124.5,648.7 1132.5,651.1 1140.5,652.8 1148.5,654.1 1156.5,653.9 1164.5,653.5 1172.5,652.9 1180.5,652.3 1188.5,652.0 1196.5,651.8 1204.5,651.8 1212.5,651.8 1220.5,651.9 1228.5,652.1 1236.5,652.5 1244.5,653.1 1252.5,653.8 1260.5,654.7 1268.5,655.5 1276.5,656.4 1284.5,659.0 1292.5,661.6 1300.5,665.2 1308.5,668.8 1316.5,673.4 1324.5,678.1 1332.5,682.4 1340.5,686.6 1348.5,688.9 1356.5,691.1 1364.5,692.1 1372.5,693.1 1380.5,692.6 1388.5,692.0 1396.5,689.6 1404.5,686.9 1412.5,684.3 1420.5,681.6 1428.5,677.8 1436.5,673.8 1444.5,667.7 1452.5,661.1 1460.5,654.9 1468.5,648.9 1476.5,640.9 1484.5,632.3 1492.5,624.1 1500.5,616.0 1508.5,609.5 1516.5,603.5 1524.5,598.9 1532.5,594.9 1540.5,592.4 1548.5,592.9 1556.5,594.5 1564.5,598.1 1572.5,601.6 1580.5,605.6 1588.5,609.6 1596.5,614.2 1604.5,618.9 1612.5,623.9 1620.5,629.0 1628.5,632.3 1636.5,635.6 1644.5,637.1 1652.5,638.4 1660.5,637.7 1668.5,636.7" fill="none" stroke="#ff0000" stroke-width="1" stroke-dasharray="3 3"/></g><text x="8.3" y="576" font-family="'Liberation Sans', Arial, sans-serif" font-size="9.7" fill="#000" stroke="#000" stroke-width="0.18" textLength="127.33" lengthAdjust="spacingAndGlyphs" xml:space="preserve" >MACD(12,26,9) 0.1318 0.1074</text><text x="1693.2" y="574.3" font-family="'Liberation Sans', Arial, sans-serif" font-size="9.7" fill="#000" stroke="#000" stroke-width="0.18" textLength="28.59" lengthAdjust="spacingAndGlyphs" xml:space="preserve" >0.6324</text><text x="1693.2" y="656.4" font-family="'Liberation Sans', Arial, sans-serif" font-size="9.7" fill="#000" stroke="#000" stroke-width="0.18" textLength="18.20" lengthAdjust="spacingAndGlyphs" xml:space="preserve" >0.00</text><text x="1693.2" y="719.1" font-family="'Liberation Sans', Arial, sans-serif" font-size="9.7" fill="#000" stroke="#000" stroke-width="0.18" textLength="26.51" lengthAdjust="spacingAndGlyphs" xml:space="preserve" >-0.497</text><rect x="1690" y="564" width="2" height="1" fill="#000" shape-rendering="crispEdges"/><g clip-path="url(#crsi)" shape-rendering="crispEdges"><line x1="4" y1="768.5" x2="1689" y2="768.5" stroke="#c0c0c0" stroke-dasharray="3 3"/><line x1="4" y1="826.5" x2="1689" y2="826.5" stroke="#c0c0c0" stroke-dasharray="3 3"/><polyline points="4.5,819.3 12.5,819.3 20.5,818.5 28.5,819.5 36.5,825.5 44.5,824.3 52.5,805.3 60.5,796.1 68.5,797.3 76.5,794.3 84.5,797.8 92.5,801.1 100.5,810.3 108.5,807.3 116.5,807.3 124.5,811.0 132.5,812.3 140.5,811.0 148.5,792.3 156.5,791.1 164.5,784.4 172.5,784.4 180.5,786.1 188.5,789.8 196.5,794.3 204.5,786.1 212.5,790.3 220.5,786.8 228.5,784.4 236.5,779.4 244.5,784.4 252.5,786.1 260.5,787.8 268.5,793.6 276.5,786.8 284.5,780.4 292.5,783.6 300.5,780.4 308.5,781.1 316.5,781.1 324.5,780.4 332.5,785.4 340.5,785.4 348.5,783.6 356.5,783.6 364.5,780.4 372.5,777.4 380.5,769.4 388.5,781.1 396.5,781.1 404.5,781.1 412.5,777.4 420.5,786.1 428.5,794.8 436.5,791.1 444.5,781.1 452.5,794.3 460.5,793.6 468.5,790.6 476.5,789.3 484.5,785.4 492.5,790.3 500.5,783.6 508.5,782.4 516.5,783.6 524.5,791.1 532.5,787.3 540.5,812.3 548.5,818.0 556.5,813.5 564.5,818.5 572.5,821.8 580.5,822.3 588.5,793.6 596.5,789.8 604.5,787.8 612.5,797.3 620.5,796.8 628.5,800.3 636.5,798.6 644.5,790.3 652.5,805.3 660.5,807.3 668.5,813.5 676.5,809.3 684.5,802.3 692.5,789.3 700.5,793.6 708.5,789.3 716.5,790.3 724.5,786.8 732.5,783.6 740.5,787.8 748.5,781.1 756.5,780.4 764.5,783.6 772.5,783.6 780.5,784.4 788.5,781.1 796.5,789.3 804.5,788.6 812.5,789.8 820.5,797.8 828.5,796.1 836.5,791.8 844.5,794.3 852.5,794.3 860.5,793.1 868.5,801.1 876.5,805.3 884.5,801.8 892.5,793.6 900.5,792.3 908.5,791.1 916.5,786.8 924.5,779.9 932.5,765.4 940.5,765.4 948.5,772.9 956.5,781.1 964.5,779.4 972.5,782.4 980.5,794.3 988.5,787.8 996.5,781.1 1004.5,785.4 1012.5,780.4 1020.5,777.4 1028.5,785.4 1036.5,781.1 1044.5,799.8 1052.5,803.6 1060.5,802.3 1068.5,803.6 1076.5,801.1 1084.5,810.3 1092.5,799.8 1100.5,798.6 1108.5,801.8 1116.5,798.6 1124.5,800.3 1132.5,789.3 1140.5,809.3 1148.5,791.8 1156.5,790.3 1164.5,793.6 1172.5,794.3 1180.5,796.1 1188.5,800.3 1196.5,804.3 1204.5,800.3 1212.5,802.3 1220.5,796.8 1228.5,793.6 1236.5,797.3 1244.5,797.8 1252.5,797.3 1260.5,797.8 1268.5,806.1 1276.5,812.9 1284.5,822.8 1292.5,817.4 1300.5,814.2 1308.5,816.4 1316.5,810.2 1324.5,812.0 1332.5,819.0 1340.5,804.0 1348.5,804.8 1356.5,810.2 1364.5,812.9 1372.5,816.4 1380.5,806.7 1388.5,789.4 1396.5,793.2 1404.5,796.7 1412.5,795.4 1420.5,794.8 1428.5,803.4 1436.5,782.4 1444.5,782.4 1452.5,782.4 1460.5,781.4 1468.5,776.5 1476.5,761.7 1484.5,771.1 1492.5,785.9 1500.5,785.1 1508.5,785.9 1516.5,787.8 1524.5,789.4 1532.5,783.2 1540.5,790.5 1548.5,789.4 1556.5,794.0 1564.5,791.3 1572.5,800.7 1580.5,803.4 1588.5,799.4 1596.5,799.4 1604.5,797.5 1612.5,794.0 1620.5,792.1 1628.5,794.0 1636.5,787.3 1644.5,789.4 1652.5,790.5 1660.5,789.4 1668.5,789.4" fill="none" stroke="#1e90ff" stroke-width="1" /></g><text x="8.3" y="737" font-family="'Liberation Sans', Arial, sans-serif" font-size="9.7" fill="#000" stroke="#000" stroke-width="0.18" textLength="67.91" lengthAdjust="spacingAndGlyphs" xml:space="preserve" >RSI(14) 55.8811</text><text x="1693.2" y="734.8" font-family="'Liberation Sans', Arial, sans-serif" font-size="9.7" fill="#000" stroke="#000" stroke-width="0.18" textLength="15.60" lengthAdjust="spacingAndGlyphs" xml:space="preserve" >100</text><text x="1693.2" y="771.9" font-family="'Liberation Sans', Arial, sans-serif" font-size="9.7" fill="#000" stroke="#000" stroke-width="0.18" textLength="10.40" lengthAdjust="spacingAndGlyphs" xml:space="preserve" >70</text><text x="1693.2" y="829.8" font-family="'Liberation Sans', Arial, sans-serif" font-size="9.7" fill="#000" stroke="#000" stroke-width="0.18" textLength="10.40" lengthAdjust="spacingAndGlyphs" xml:space="preserve" >30</text><text x="1693.2" y="866.1" font-family="'Liberation Sans', Arial, sans-serif" font-size="9.7" fill="#000" stroke="#000" stroke-width="0.18" textLength="5.20" lengthAdjust="spacingAndGlyphs" xml:space="preserve" >0</text><rect x="1690" y="725" width="2" height="1" fill="#000" shape-rendering="crispEdges"/><rect x="4" y="870" width="1" height="3" fill="#000" shape-rendering="crispEdges"/><text x="3.2" y="882" font-family="'Liberation Sans', Arial, sans-serif" font-size="9.7" fill="#000" stroke="#000" stroke-width="0.18" textLength="50.09" lengthAdjust="spacingAndGlyphs" xml:space="preserve" >24 Jun 2020</text><rect x="68" y="870" width="1" height="3" fill="#000" shape-rendering="crispEdges"/><text x="67.2" y="882" font-family="'Liberation Sans', Arial, sans-serif" font-size="9.7" fill="#000" stroke="#000" stroke-width="0.18" textLength="52.62" lengthAdjust="spacingAndGlyphs" xml:space="preserve" >25 Jun 20:00</text><rect x="132" y="870" width="1" height="3" fill="#000" shape-rendering="crispEdges"/><text x="131.2" y="882" font-family="'Liberation Sans', Arial, sans-serif" font-size="9.7" fill="#000" stroke="#000" stroke-width="0.18" textLength="52.62" lengthAdjust="spacingAndGlyphs" xml:space="preserve" >29 Jun 00:00</text><rect x="196" y="870" width="1" height="3" fill="#000" shape-rendering="crispEdges"/><text x="195.2" y="882" font-family="'Liberation Sans', Arial, sans-serif" font-size="9.7" fill="#000" stroke="#000" stroke-width="0.18" textLength="52.62" lengthAdjust="spacingAndGlyphs" xml:space="preserve" >30 Jun 08:00</text><rect x="260" y="870" width="1" height="3" fill="#000" shape-rendering="crispEdges"/><text x="259.2" y="882" font-family="'Liberation Sans', Arial, sans-serif" font-size="9.7" fill="#000" stroke="#000" stroke-width="0.18" textLength="45.25" lengthAdjust="spacingAndGlyphs" xml:space="preserve" >1 Jul 16:00</text><rect x="324" y="870" width="1" height="3" fill="#000" shape-rendering="crispEdges"/><text x="323.2" y="882" font-family="'Liberation Sans', Arial, sans-serif" font-size="9.7" fill="#000" stroke="#000" stroke-width="0.18" textLength="45.25" lengthAdjust="spacingAndGlyphs" xml:space="preserve" >3 Jul 00:00</text><rect x="388" y="870" width="1" height="3" fill="#000" shape-rendering="crispEdges"/><text x="387.2" y="882" font-family="'Liberation Sans', Arial, sans-serif" font-size="9.7" fill="#000" stroke="#000" stroke-width="0.18" textLength="45.25" lengthAdjust="spacingAndGlyphs" xml:space="preserve" >6 Jul 08:00</text><rect x="452" y="870" width="1" height="3" fill="#000" shape-rendering="crispEdges"/><text x="451.2" y="882" font-family="'Liberation Sans', Arial, sans-serif" font-size="9.7" fill="#000" stroke="#000" stroke-width="0.18" textLength="45.25" lengthAdjust="spacingAndGlyphs" xml:space="preserve" >7 Jul 16:00</text><rect x="516" y="870" width="1" height="3" fill="#000" shape-rendering="crispEdges"/><text x="515.2" y="882" font-family="'Liberation Sans', Arial, sans-serif" font-size="9.7" fill="#000" stroke="#000" stroke-width="0.18" textLength="45.25" lengthAdjust="spacingAndGlyphs" xml:space="preserve" >9 Jul 00:00</text><rect x="580" y="870" width="1" height="3" fill="#000" shape-rendering="crispEdges"/><text x="579.2" y="882" font-family="'Liberation Sans', Arial, sans-serif" font-size="9.7" fill="#000" stroke="#000" stroke-width="0.18" textLength="50.40" lengthAdjust="spacingAndGlyphs" xml:space="preserve" >10 Jul 08:00</text><rect x="644" y="870" width="1" height="3" fill="#000" shape-rendering="crispEdges"/><text x="643.2" y="882" font-family="'Liberation Sans', Arial, sans-serif" font-size="9.7" fill="#000" stroke="#000" stroke-width="0.18" textLength="50.40" lengthAdjust="spacingAndGlyphs" xml:space="preserve" >13 Jul 12:00</text><rect x="708" y="870" width="1" height="3" fill="#000" shape-rendering="crispEdges"/><text x="707.2" y="882" font-family="'Liberation Sans', Arial, sans-serif" font-size="9.7" fill="#000" stroke="#000" stroke-width="0.18" textLength="50.40" lengthAdjust="spacingAndGlyphs" xml:space="preserve" >14 Jul 20:00</text><rect x="772" y="870" width="1" height="3" fill="#000" shape-rendering="crispEdges"/><text x="771.2" y="882" font-family="'Liberation Sans', Arial, sans-serif" font-size="9.7" fill="#000" stroke="#000" stroke-width="0.18" textLength="50.40" lengthAdjust="spacingAndGlyphs" xml:space="preserve" >16 Jul 04:00</text><rect x="836" y="870" width="1" height="3" fill="#000" shape-rendering="crispEdges"/><text x="835.2" y="882" font-family="'Liberation Sans', Arial, sans-serif" font-size="9.7" fill="#000" stroke="#000" stroke-width="0.18" textLength="50.40" lengthAdjust="spacingAndGlyphs" xml:space="preserve" >17 Jul 12:00</text><rect x="900" y="870" width="1" height="3" fill="#000" shape-rendering="crispEdges"/><text x="899.2" y="882" font-family="'Liberation Sans', Arial, sans-serif" font-size="9.7" fill="#000" stroke="#000" stroke-width="0.18" textLength="50.40" lengthAdjust="spacingAndGlyphs" xml:space="preserve" >20 Jul 16:00</text><rect x="964" y="870" width="1" height="3" fill="#000" shape-rendering="crispEdges"/><text x="963.2" y="882" font-family="'Liberation Sans', Arial, sans-serif" font-size="9.7" fill="#000" stroke="#000" stroke-width="0.18" textLength="50.40" lengthAdjust="spacingAndGlyphs" xml:space="preserve" >22 Jul 00:00</text><rect x="1028" y="870" width="1" height="3" fill="#000" shape-rendering="crispEdges"/><text x="1027.2" y="882" font-family="'Liberation Sans', Arial, sans-serif" font-size="9.7" fill="#000" stroke="#000" stroke-width="0.18" textLength="50.40" lengthAdjust="spacingAndGlyphs" xml:space="preserve" >23 Jul 08:00</text><rect x="1092" y="870" width="1" height="3" fill="#000" shape-rendering="crispEdges"/><text x="1091.2" y="882" font-family="'Liberation Sans', Arial, sans-serif" font-size="9.7" fill="#000" stroke="#000" stroke-width="0.18" textLength="50.40" lengthAdjust="spacingAndGlyphs" xml:space="preserve" >24 Jul 16:00</text><rect x="1156" y="870" width="1" height="3" fill="#000" shape-rendering="crispEdges"/><text x="1155.2" y="882" font-family="'Liberation Sans', Arial, sans-serif" font-size="9.7" fill="#000" stroke="#000" stroke-width="0.18" textLength="50.40" lengthAdjust="spacingAndGlyphs" xml:space="preserve" >27 Jul 20:00</text><rect x="1220" y="870" width="1" height="3" fill="#000" shape-rendering="crispEdges"/><text x="1219.2" y="882" font-family="'Liberation Sans', Arial, sans-serif" font-size="9.7" fill="#000" stroke="#000" stroke-width="0.18" textLength="50.40" lengthAdjust="spacingAndGlyphs" xml:space="preserve" >29 Jul 04:00</text><rect x="1284" y="870" width="1" height="3" fill="#000" shape-rendering="crispEdges"/><text x="1283.2" y="882" font-family="'Liberation Sans', Arial, sans-serif" font-size="9.7" fill="#000" stroke="#000" stroke-width="0.18" textLength="50.40" lengthAdjust="spacingAndGlyphs" xml:space="preserve" >30 Jul 12:00</text><rect x="1348" y="870" width="1" height="3" fill="#000" shape-rendering="crispEdges"/><text x="1347.2" y="882" font-family="'Liberation Sans', Arial, sans-serif" font-size="9.7" fill="#000" stroke="#000" stroke-width="0.18" textLength="50.40" lengthAdjust="spacingAndGlyphs" xml:space="preserve" >31 Jul 20:00</text><rect x="1412" y="870" width="1" height="3" fill="#000" shape-rendering="crispEdges"/><text x="1411.2" y="882" font-family="'Liberation Sans', Arial, sans-serif" font-size="9.7" fill="#000" stroke="#000" stroke-width="0.18" textLength="51.24" lengthAdjust="spacingAndGlyphs" xml:space="preserve" >4 Aug 00:00</text><rect x="1476" y="870" width="1" height="3" fill="#000" shape-rendering="crispEdges"/><text x="1475.2" y="882" font-family="'Liberation Sans', Arial, sans-serif" font-size="9.7" fill="#000" stroke="#000" stroke-width="0.18" textLength="51.24" lengthAdjust="spacingAndGlyphs" xml:space="preserve" >5 Aug 08:00</text><rect x="1540" y="870" width="1" height="3" fill="#000" shape-rendering="crispEdges"/><text x="1539.2" y="882" font-family="'Liberation Sans', Arial, sans-serif" font-size="9.7" fill="#000" stroke="#000" stroke-width="0.18" textLength="51.24" lengthAdjust="spacingAndGlyphs" xml:space="preserve" >6 Aug 16:00</text><rect x="1604" y="870" width="1" height="3" fill="#000" shape-rendering="crispEdges"/><text x="1603.2" y="882" font-family="'Liberation Sans', Arial, sans-serif" font-size="9.7" fill="#000" stroke="#000" stroke-width="0.18" textLength="51.24" lengthAdjust="spacingAndGlyphs" xml:space="preserve" >9 Aug 23:00</text><rect x="1668" y="870" width="1" height="3" fill="#000" shape-rendering="crispEdges"/><text x="1667.2" y="882" font-family="'Liberation Sans', Arial, sans-serif" font-size="9.7" fill="#000" stroke="#000" stroke-width="0.18" textLength="55.87" lengthAdjust="spacingAndGlyphs" xml:space="preserve" >11 Aug 00:00</text></svg>
</body></html>
